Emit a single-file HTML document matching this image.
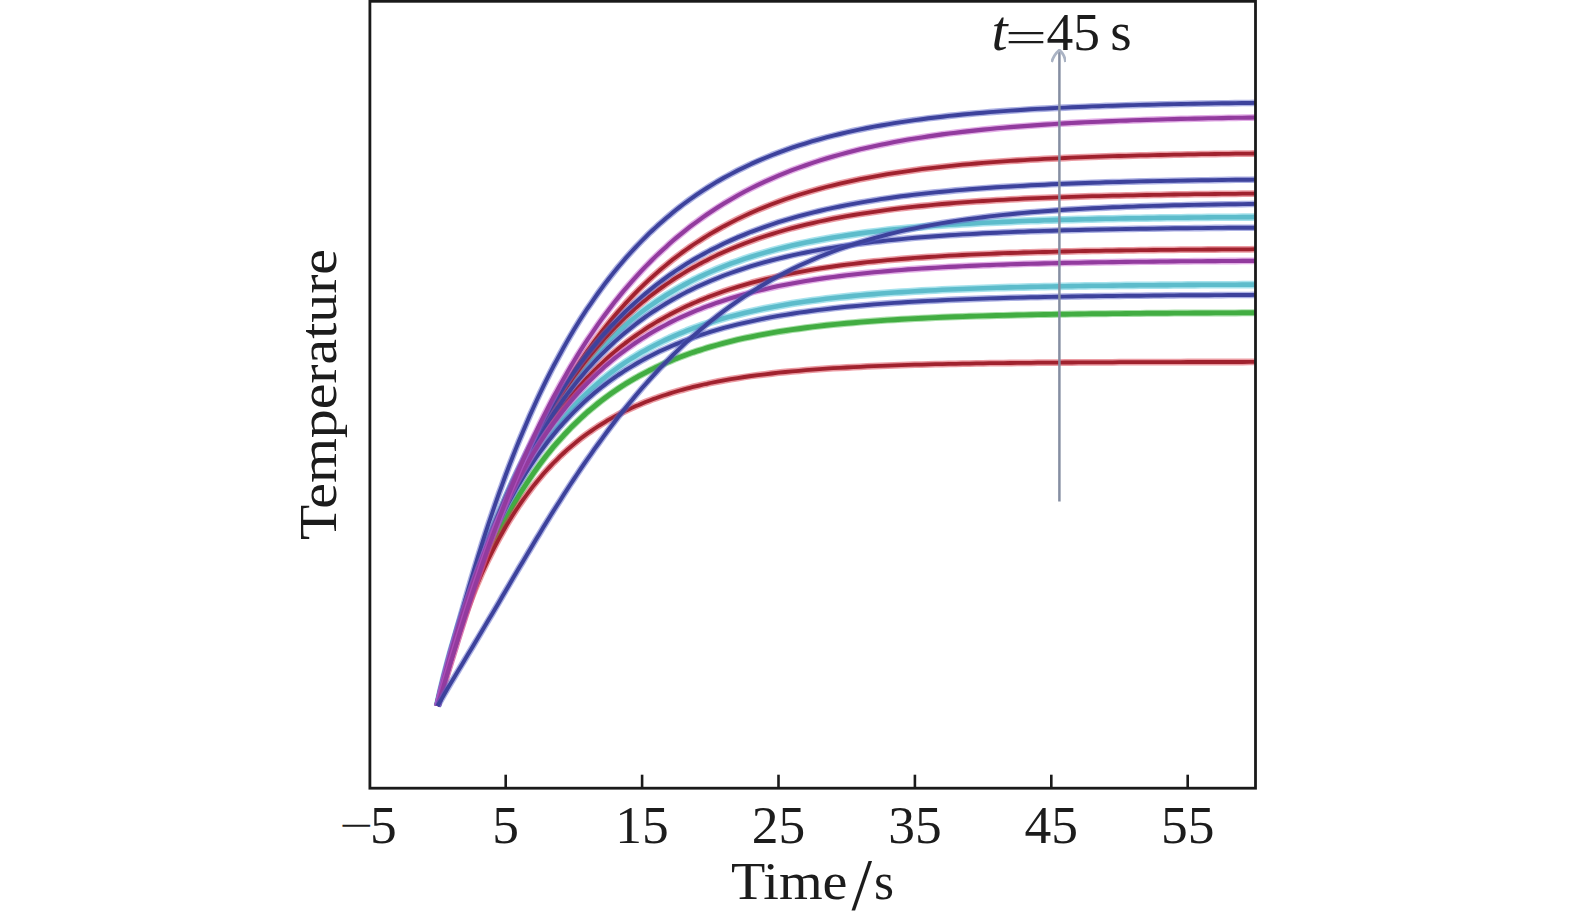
<!DOCTYPE html>
<html lang="en">
<head>
<meta charset="utf-8">
<title>Temperature vs Time</title>
<style>
html,body{margin:0;padding:0;background:#fff;}
body{width:1575px;height:913px;overflow:hidden;}
svg{display:block;}
text{font-family:"Liberation Serif","DejaVu Serif",serif;fill:#1c1c1c;}
.tick text{font-size:53.5px;}
.curves path{fill:none;stroke-linecap:butt;stroke-linejoin:round;}
</style>
</head>
<body>
<svg width="1575" height="913" viewBox="0 0 1575 913">
<rect x="0" y="0" width="1575" height="913" fill="#ffffff"/>
<g class="curves" filter="url(#soft)" transform="scale(1,1.0)">
<path d="M437.5 706.0 L440.9 691.8 L444.3 678.9 L447.7 666.7 L451.1 655.1 L454.6 644.0 L458.0 633.3 L461.4 623.1 L464.8 613.2 L468.2 603.7 L471.6 594.6 L475.0 585.7 L478.4 577.2 L481.8 569.0 L485.2 561.1 L488.6 553.4 L492.1 546.0 L495.5 538.8 L498.9 531.9 L502.3 525.2 L505.7 518.7 L509.1 512.4 L512.5 506.3 L515.9 500.5 L519.3 494.8 L522.8 489.3 L526.2 484.0 L529.6 478.8 L533.0 473.8 L536.4 469.0 L539.8 464.3 L543.2 459.7 L546.6 455.3 L550.0 451.1 L553.4 446.9 L556.9 442.9 L560.3 439.1 L563.7 435.3 L567.1 431.7 L570.5 428.1 L573.9 424.7 L577.3 421.4 L580.7 418.2 L584.1 415.1 L587.5 412.0 L591.0 409.1 L594.4 406.3 L597.8 403.5 L601.2 400.8 L604.6 398.2 L608.0 395.7 L611.4 393.3 L614.8 390.9 L618.2 388.6 L621.6 386.4 L625.0 384.2 L628.5 382.1 L631.9 380.1 L635.3 378.1 L638.7 376.2 L642.1 374.4 L645.5 372.6 L648.9 370.8 L652.3 369.1 L655.7 367.5 L659.1 365.9 L662.6 364.3 L666.0 362.8 L669.4 361.4 L672.8 360.0 L676.2 358.6 L679.6 357.3 L683.0 356.0 L686.4 354.7 L689.8 353.5 L693.2 352.3 L696.7 351.2 L700.1 350.1 L703.5 349.0 L706.9 347.9 L710.3 346.9 L717.1 345.0 L723.9 343.1 L730.8 341.4 L737.6 339.7 L744.4 338.2 L751.2 336.8 L758.0 335.4 L764.9 334.1 L771.7 332.9 L778.5 331.7 L785.3 330.7 L792.1 329.6 L799.0 328.7 L805.8 327.8 L812.6 326.9 L819.4 326.1 L826.2 325.3 L833.1 324.6 L839.9 323.9 L846.7 323.3 L853.5 322.7 L860.3 322.1 L867.2 321.6 L874.0 321.1 L880.8 320.6 L887.6 320.1 L894.4 319.7 L901.3 319.3 L908.1 318.9 L914.9 318.6 L921.7 318.2 L928.5 317.9 L935.4 317.6 L942.2 317.3 L949.0 317.0 L955.8 316.8 L962.6 316.6 L969.5 316.3 L976.3 316.1 L983.1 315.9 L989.9 315.7 L996.7 315.5 L1003.6 315.4 L1010.4 315.2 L1017.2 315.0 L1024.0 314.9 L1030.8 314.8 L1037.7 314.6 L1044.5 314.5 L1051.3 314.4 L1058.1 314.3 L1064.9 314.2 L1071.8 314.1 L1078.6 314.0 L1085.4 313.9 L1092.2 313.8 L1099.0 313.8 L1105.9 313.7 L1112.7 313.6 L1119.5 313.6 L1126.3 313.5 L1133.1 313.4 L1140.0 313.4 L1146.8 313.3 L1153.6 313.3 L1160.4 313.2 L1167.2 313.2 L1174.1 313.1 L1180.9 313.1 L1187.7 313.1 L1194.5 313.0 L1201.3 313.0 L1208.2 313.0 L1215.0 312.9 L1221.8 312.9 L1228.6 312.9 L1235.4 312.9 L1242.3 312.8 L1249.1 312.8 L1255.9 312.8" stroke="#50c050" stroke-width="7.0" stroke-opacity="0.5"/>
<path d="M437.5 706.0 L440.9 691.8 L444.3 678.9 L447.7 666.7 L451.1 655.1 L454.6 644.0 L458.0 633.3 L461.4 623.1 L464.8 613.2 L468.2 603.7 L471.6 594.6 L475.0 585.7 L478.4 577.2 L481.8 569.0 L485.2 561.1 L488.6 553.4 L492.1 546.0 L495.5 538.8 L498.9 531.9 L502.3 525.2 L505.7 518.7 L509.1 512.4 L512.5 506.3 L515.9 500.5 L519.3 494.8 L522.8 489.3 L526.2 484.0 L529.6 478.8 L533.0 473.8 L536.4 469.0 L539.8 464.3 L543.2 459.7 L546.6 455.3 L550.0 451.1 L553.4 446.9 L556.9 442.9 L560.3 439.1 L563.7 435.3 L567.1 431.7 L570.5 428.1 L573.9 424.7 L577.3 421.4 L580.7 418.2 L584.1 415.1 L587.5 412.0 L591.0 409.1 L594.4 406.3 L597.8 403.5 L601.2 400.8 L604.6 398.2 L608.0 395.7 L611.4 393.3 L614.8 390.9 L618.2 388.6 L621.6 386.4 L625.0 384.2 L628.5 382.1 L631.9 380.1 L635.3 378.1 L638.7 376.2 L642.1 374.4 L645.5 372.6 L648.9 370.8 L652.3 369.1 L655.7 367.5 L659.1 365.9 L662.6 364.3 L666.0 362.8 L669.4 361.4 L672.8 360.0 L676.2 358.6 L679.6 357.3 L683.0 356.0 L686.4 354.7 L689.8 353.5 L693.2 352.3 L696.7 351.2 L700.1 350.1 L703.5 349.0 L706.9 347.9 L710.3 346.9 L717.1 345.0 L723.9 343.1 L730.8 341.4 L737.6 339.7 L744.4 338.2 L751.2 336.8 L758.0 335.4 L764.9 334.1 L771.7 332.9 L778.5 331.7 L785.3 330.7 L792.1 329.6 L799.0 328.7 L805.8 327.8 L812.6 326.9 L819.4 326.1 L826.2 325.3 L833.1 324.6 L839.9 323.9 L846.7 323.3 L853.5 322.7 L860.3 322.1 L867.2 321.6 L874.0 321.1 L880.8 320.6 L887.6 320.1 L894.4 319.7 L901.3 319.3 L908.1 318.9 L914.9 318.6 L921.7 318.2 L928.5 317.9 L935.4 317.6 L942.2 317.3 L949.0 317.0 L955.8 316.8 L962.6 316.6 L969.5 316.3 L976.3 316.1 L983.1 315.9 L989.9 315.7 L996.7 315.5 L1003.6 315.4 L1010.4 315.2 L1017.2 315.0 L1024.0 314.9 L1030.8 314.8 L1037.7 314.6 L1044.5 314.5 L1051.3 314.4 L1058.1 314.3 L1064.9 314.2 L1071.8 314.1 L1078.6 314.0 L1085.4 313.9 L1092.2 313.8 L1099.0 313.8 L1105.9 313.7 L1112.7 313.6 L1119.5 313.6 L1126.3 313.5 L1133.1 313.4 L1140.0 313.4 L1146.8 313.3 L1153.6 313.3 L1160.4 313.2 L1167.2 313.2 L1174.1 313.1 L1180.9 313.1 L1187.7 313.1 L1194.5 313.0 L1201.3 313.0 L1208.2 313.0 L1215.0 312.9 L1221.8 312.9 L1228.6 312.9 L1235.4 312.9 L1242.3 312.8 L1249.1 312.8 L1255.9 312.8" stroke="#42ad42" stroke-width="4.9"/>
<path d="M437.5 706.0 L440.9 690.5 L444.3 676.5 L447.7 663.4 L451.1 651.0 L454.6 639.1 L458.0 627.7 L461.4 616.8 L464.8 606.3 L468.2 596.1 L471.6 586.4 L475.0 577.0 L478.4 568.0 L481.8 559.2 L485.2 550.8 L488.6 542.6 L492.1 534.8 L495.5 527.1 L498.9 519.8 L502.3 512.7 L505.7 505.8 L509.1 499.1 L512.5 492.7 L515.9 486.5 L519.3 480.4 L522.8 474.6 L526.2 468.9 L529.6 463.4 L533.0 458.1 L536.4 453.0 L539.8 448.0 L543.2 443.2 L546.6 438.5 L550.0 434.0 L553.4 429.6 L556.9 425.3 L560.3 421.2 L563.7 417.2 L567.1 413.3 L570.5 409.6 L573.9 405.9 L577.3 402.4 L580.7 399.0 L584.1 395.6 L587.5 392.4 L591.0 389.3 L594.4 386.2 L597.8 383.3 L601.2 380.4 L604.6 377.7 L608.0 375.0 L611.4 372.4 L614.8 369.8 L618.2 367.4 L621.6 365.0 L625.0 362.7 L628.5 360.4 L631.9 358.3 L635.3 356.2 L638.7 354.1 L642.1 352.1 L645.5 350.2 L648.9 348.3 L652.3 346.5 L655.7 344.7 L659.1 343.0 L662.6 341.3 L666.0 339.7 L669.4 338.1 L672.8 336.6 L676.2 335.1 L679.6 333.7 L683.0 332.3 L686.4 330.9 L689.8 329.6 L693.2 328.3 L696.7 327.1 L700.1 325.9 L703.5 324.7 L706.9 323.6 L710.3 322.5 L717.1 320.3 L723.9 318.3 L730.8 316.4 L737.6 314.7 L744.4 313.0 L751.2 311.4 L758.0 309.9 L764.9 308.5 L771.7 307.2 L778.5 305.9 L785.3 304.7 L792.1 303.6 L799.0 302.5 L805.8 301.5 L812.6 300.6 L819.4 299.7 L826.2 298.8 L833.1 298.0 L839.9 297.3 L846.7 296.6 L853.5 295.9 L860.3 295.2 L867.2 294.6 L874.0 294.1 L880.8 293.5 L887.6 293.0 L894.4 292.5 L901.3 292.1 L908.1 291.7 L914.9 291.3 L921.7 290.9 L928.5 290.5 L935.4 290.2 L942.2 289.8 L949.0 289.5 L955.8 289.2 L962.6 289.0 L969.5 288.7 L976.3 288.5 L983.1 288.2 L989.9 288.0 L996.7 287.8 L1003.6 287.6 L1010.4 287.4 L1017.2 287.2 L1024.0 287.1 L1030.8 286.9 L1037.7 286.8 L1044.5 286.6 L1051.3 286.5 L1058.1 286.4 L1064.9 286.3 L1071.8 286.1 L1078.6 286.0 L1085.4 285.9 L1092.2 285.8 L1099.0 285.7 L1105.9 285.7 L1112.7 285.6 L1119.5 285.5 L1126.3 285.4 L1133.1 285.4 L1140.0 285.3 L1146.8 285.2 L1153.6 285.2 L1160.4 285.1 L1167.2 285.1 L1174.1 285.0 L1180.9 285.0 L1187.7 284.9 L1194.5 284.9 L1201.3 284.8 L1208.2 284.8 L1215.0 284.8 L1221.8 284.7 L1228.6 284.7 L1235.4 284.7 L1242.3 284.6 L1249.1 284.6 L1255.9 284.6" stroke="#6fd0e0" stroke-width="7.6" stroke-opacity="0.62"/>
<path d="M437.5 706.0 L440.9 690.5 L444.3 676.5 L447.7 663.4 L451.1 651.0 L454.6 639.1 L458.0 627.7 L461.4 616.8 L464.8 606.3 L468.2 596.1 L471.6 586.4 L475.0 577.0 L478.4 568.0 L481.8 559.2 L485.2 550.8 L488.6 542.6 L492.1 534.8 L495.5 527.1 L498.9 519.8 L502.3 512.7 L505.7 505.8 L509.1 499.1 L512.5 492.7 L515.9 486.5 L519.3 480.4 L522.8 474.6 L526.2 468.9 L529.6 463.4 L533.0 458.1 L536.4 453.0 L539.8 448.0 L543.2 443.2 L546.6 438.5 L550.0 434.0 L553.4 429.6 L556.9 425.3 L560.3 421.2 L563.7 417.2 L567.1 413.3 L570.5 409.6 L573.9 405.9 L577.3 402.4 L580.7 399.0 L584.1 395.6 L587.5 392.4 L591.0 389.3 L594.4 386.2 L597.8 383.3 L601.2 380.4 L604.6 377.7 L608.0 375.0 L611.4 372.4 L614.8 369.8 L618.2 367.4 L621.6 365.0 L625.0 362.7 L628.5 360.4 L631.9 358.3 L635.3 356.2 L638.7 354.1 L642.1 352.1 L645.5 350.2 L648.9 348.3 L652.3 346.5 L655.7 344.7 L659.1 343.0 L662.6 341.3 L666.0 339.7 L669.4 338.1 L672.8 336.6 L676.2 335.1 L679.6 333.7 L683.0 332.3 L686.4 330.9 L689.8 329.6 L693.2 328.3 L696.7 327.1 L700.1 325.9 L703.5 324.7 L706.9 323.6 L710.3 322.5 L717.1 320.3 L723.9 318.3 L730.8 316.4 L737.6 314.7 L744.4 313.0 L751.2 311.4 L758.0 309.9 L764.9 308.5 L771.7 307.2 L778.5 305.9 L785.3 304.7 L792.1 303.6 L799.0 302.5 L805.8 301.5 L812.6 300.6 L819.4 299.7 L826.2 298.8 L833.1 298.0 L839.9 297.3 L846.7 296.6 L853.5 295.9 L860.3 295.2 L867.2 294.6 L874.0 294.1 L880.8 293.5 L887.6 293.0 L894.4 292.5 L901.3 292.1 L908.1 291.7 L914.9 291.3 L921.7 290.9 L928.5 290.5 L935.4 290.2 L942.2 289.8 L949.0 289.5 L955.8 289.2 L962.6 289.0 L969.5 288.7 L976.3 288.5 L983.1 288.2 L989.9 288.0 L996.7 287.8 L1003.6 287.6 L1010.4 287.4 L1017.2 287.2 L1024.0 287.1 L1030.8 286.9 L1037.7 286.8 L1044.5 286.6 L1051.3 286.5 L1058.1 286.4 L1064.9 286.3 L1071.8 286.1 L1078.6 286.0 L1085.4 285.9 L1092.2 285.8 L1099.0 285.7 L1105.9 285.7 L1112.7 285.6 L1119.5 285.5 L1126.3 285.4 L1133.1 285.4 L1140.0 285.3 L1146.8 285.2 L1153.6 285.2 L1160.4 285.1 L1167.2 285.1 L1174.1 285.0 L1180.9 285.0 L1187.7 284.9 L1194.5 284.9 L1201.3 284.8 L1208.2 284.8 L1215.0 284.8 L1221.8 284.7 L1228.6 284.7 L1235.4 284.7 L1242.3 284.6 L1249.1 284.6 L1255.9 284.6" stroke="#5dbccb" stroke-width="4.6"/>
<path d="M437.5 706.0 L440.9 692.2 L444.3 679.0 L447.7 666.2 L451.1 653.8 L454.6 641.9 L458.0 630.2 L461.4 618.9 L464.8 608.0 L468.2 597.3 L471.6 587.0 L475.0 576.9 L478.4 567.1 L481.8 557.7 L485.2 548.4 L488.6 539.4 L492.1 530.7 L495.5 522.2 L498.9 514.0 L502.3 506.0 L505.7 498.2 L509.1 490.6 L512.5 483.2 L515.9 476.0 L519.3 469.1 L522.8 462.3 L526.2 455.7 L529.6 449.2 L533.0 443.0 L536.4 436.9 L539.8 431.0 L543.2 425.3 L546.6 419.7 L550.0 414.2 L553.4 408.9 L556.9 403.8 L560.3 398.8 L563.7 393.9 L567.1 389.1 L570.5 384.5 L573.9 380.0 L577.3 375.7 L580.7 371.4 L584.1 367.3 L587.5 363.2 L591.0 359.3 L594.4 355.5 L597.8 351.8 L601.2 348.2 L604.6 344.7 L608.0 341.3 L611.4 337.9 L614.8 334.7 L618.2 331.5 L621.6 328.5 L625.0 325.5 L628.5 322.6 L631.9 319.8 L635.3 317.0 L638.7 314.3 L642.1 311.7 L645.5 309.2 L648.9 306.7 L652.3 304.3 L655.7 302.0 L659.1 299.7 L662.6 297.5 L666.0 295.3 L669.4 293.2 L672.8 291.2 L676.2 289.2 L679.6 287.3 L683.0 285.4 L686.4 283.6 L689.8 281.8 L693.2 280.0 L696.7 278.3 L700.1 276.7 L703.5 275.1 L706.9 273.5 L710.3 272.0 L717.1 269.1 L723.9 266.4 L730.8 263.7 L737.6 261.3 L744.4 258.9 L751.2 256.7 L758.0 254.6 L764.9 252.6 L771.7 250.7 L778.5 248.9 L785.3 247.2 L792.1 245.6 L799.0 244.0 L805.8 242.6 L812.6 241.2 L819.4 239.9 L826.2 238.7 L833.1 237.5 L839.9 236.4 L846.7 235.4 L853.5 234.4 L860.3 233.4 L867.2 232.5 L874.0 231.7 L880.8 230.9 L887.6 230.1 L894.4 229.4 L901.3 228.7 L908.1 228.1 L914.9 227.5 L921.7 226.9 L928.5 226.3 L935.4 225.8 L942.2 225.3 L949.0 224.8 L955.8 224.4 L962.6 224.0 L969.5 223.6 L976.3 223.2 L983.1 222.8 L989.9 222.5 L996.7 222.2 L1003.6 221.9 L1010.4 221.6 L1017.2 221.3 L1024.0 221.0 L1030.8 220.8 L1037.7 220.6 L1044.5 220.3 L1051.3 220.1 L1058.1 219.9 L1064.9 219.7 L1071.8 219.6 L1078.6 219.4 L1085.4 219.2 L1092.2 219.1 L1099.0 218.9 L1105.9 218.8 L1112.7 218.7 L1119.5 218.5 L1126.3 218.4 L1133.1 218.3 L1140.0 218.2 L1146.8 218.1 L1153.6 218.0 L1160.4 217.9 L1167.2 217.8 L1174.1 217.7 L1180.9 217.7 L1187.7 217.6 L1194.5 217.5 L1201.3 217.5 L1208.2 217.4 L1215.0 217.3 L1221.8 217.3 L1228.6 217.2 L1235.4 217.2 L1242.3 217.1 L1249.1 217.1 L1255.9 217.0" stroke="#6fd0e0" stroke-width="7.6" stroke-opacity="0.62"/>
<path d="M437.5 706.0 L440.9 692.2 L444.3 679.0 L447.7 666.2 L451.1 653.8 L454.6 641.9 L458.0 630.2 L461.4 618.9 L464.8 608.0 L468.2 597.3 L471.6 587.0 L475.0 576.9 L478.4 567.1 L481.8 557.7 L485.2 548.4 L488.6 539.4 L492.1 530.7 L495.5 522.2 L498.9 514.0 L502.3 506.0 L505.7 498.2 L509.1 490.6 L512.5 483.2 L515.9 476.0 L519.3 469.1 L522.8 462.3 L526.2 455.7 L529.6 449.2 L533.0 443.0 L536.4 436.9 L539.8 431.0 L543.2 425.3 L546.6 419.7 L550.0 414.2 L553.4 408.9 L556.9 403.8 L560.3 398.8 L563.7 393.9 L567.1 389.1 L570.5 384.5 L573.9 380.0 L577.3 375.7 L580.7 371.4 L584.1 367.3 L587.5 363.2 L591.0 359.3 L594.4 355.5 L597.8 351.8 L601.2 348.2 L604.6 344.7 L608.0 341.3 L611.4 337.9 L614.8 334.7 L618.2 331.5 L621.6 328.5 L625.0 325.5 L628.5 322.6 L631.9 319.8 L635.3 317.0 L638.7 314.3 L642.1 311.7 L645.5 309.2 L648.9 306.7 L652.3 304.3 L655.7 302.0 L659.1 299.7 L662.6 297.5 L666.0 295.3 L669.4 293.2 L672.8 291.2 L676.2 289.2 L679.6 287.3 L683.0 285.4 L686.4 283.6 L689.8 281.8 L693.2 280.0 L696.7 278.3 L700.1 276.7 L703.5 275.1 L706.9 273.5 L710.3 272.0 L717.1 269.1 L723.9 266.4 L730.8 263.7 L737.6 261.3 L744.4 258.9 L751.2 256.7 L758.0 254.6 L764.9 252.6 L771.7 250.7 L778.5 248.9 L785.3 247.2 L792.1 245.6 L799.0 244.0 L805.8 242.6 L812.6 241.2 L819.4 239.9 L826.2 238.7 L833.1 237.5 L839.9 236.4 L846.7 235.4 L853.5 234.4 L860.3 233.4 L867.2 232.5 L874.0 231.7 L880.8 230.9 L887.6 230.1 L894.4 229.4 L901.3 228.7 L908.1 228.1 L914.9 227.5 L921.7 226.9 L928.5 226.3 L935.4 225.8 L942.2 225.3 L949.0 224.8 L955.8 224.4 L962.6 224.0 L969.5 223.6 L976.3 223.2 L983.1 222.8 L989.9 222.5 L996.7 222.2 L1003.6 221.9 L1010.4 221.6 L1017.2 221.3 L1024.0 221.0 L1030.8 220.8 L1037.7 220.6 L1044.5 220.3 L1051.3 220.1 L1058.1 219.9 L1064.9 219.7 L1071.8 219.6 L1078.6 219.4 L1085.4 219.2 L1092.2 219.1 L1099.0 218.9 L1105.9 218.8 L1112.7 218.7 L1119.5 218.5 L1126.3 218.4 L1133.1 218.3 L1140.0 218.2 L1146.8 218.1 L1153.6 218.0 L1160.4 217.9 L1167.2 217.8 L1174.1 217.7 L1180.9 217.7 L1187.7 217.6 L1194.5 217.5 L1201.3 217.5 L1208.2 217.4 L1215.0 217.3 L1221.8 217.3 L1228.6 217.2 L1235.4 217.2 L1242.3 217.1 L1249.1 217.1 L1255.9 217.0" stroke="#5dbccb" stroke-width="4.6"/>
<path d="M437.5 706.0 L440.9 692.1 L444.3 679.4 L447.7 667.5 L451.1 656.1 L454.6 645.3 L458.0 635.0 L461.4 625.1 L464.8 615.6 L468.2 606.5 L471.6 597.7 L475.0 589.3 L478.4 581.3 L481.8 573.5 L485.2 566.1 L488.6 558.9 L492.1 552.0 L495.5 545.3 L498.9 538.9 L502.3 532.8 L505.7 526.8 L509.1 521.1 L512.5 515.6 L515.9 510.3 L519.3 505.2 L522.8 500.2 L526.2 495.5 L529.6 490.9 L533.0 486.4 L536.4 482.2 L539.8 478.1 L543.2 474.1 L546.6 470.3 L550.0 466.6 L553.4 463.0 L556.9 459.6 L560.3 456.2 L563.7 453.0 L567.1 449.9 L570.5 447.0 L573.9 444.1 L577.3 441.3 L580.7 438.6 L584.1 436.0 L587.5 433.5 L591.0 431.1 L594.4 428.8 L597.8 426.5 L601.2 424.4 L604.6 422.3 L608.0 420.2 L611.4 418.3 L614.8 416.4 L618.2 414.6 L621.6 412.8 L625.0 411.1 L628.5 409.5 L631.9 407.9 L635.3 406.3 L638.7 404.9 L642.1 403.4 L645.5 402.0 L648.9 400.7 L652.3 399.4 L655.7 398.2 L659.1 397.0 L662.6 395.8 L666.0 394.7 L669.4 393.6 L672.8 392.5 L676.2 391.5 L679.6 390.5 L683.0 389.6 L686.4 388.7 L689.8 387.8 L693.2 386.9 L696.7 386.1 L700.1 385.3 L703.5 384.5 L706.9 383.8 L710.3 383.0 L717.1 381.7 L723.9 380.4 L730.8 379.2 L737.6 378.1 L744.4 377.0 L751.2 376.0 L758.0 375.1 L764.9 374.3 L771.7 373.5 L778.5 372.7 L785.3 372.0 L792.1 371.4 L799.0 370.8 L805.8 370.2 L812.6 369.7 L819.4 369.2 L826.2 368.7 L833.1 368.2 L839.9 367.8 L846.7 367.5 L853.5 367.1 L860.3 366.8 L867.2 366.4 L874.0 366.1 L880.8 365.9 L887.6 365.6 L894.4 365.4 L901.3 365.2 L908.1 364.9 L914.9 364.7 L921.7 364.6 L928.5 364.4 L935.4 364.2 L942.2 364.1 L949.0 363.9 L955.8 363.8 L962.6 363.7 L969.5 363.6 L976.3 363.4 L983.1 363.3 L989.9 363.2 L996.7 363.2 L1003.6 363.1 L1010.4 363.0 L1017.2 362.9 L1024.0 362.9 L1030.8 362.8 L1037.7 362.7 L1044.5 362.7 L1051.3 362.6 L1058.1 362.6 L1064.9 362.5 L1071.8 362.5 L1078.6 362.4 L1085.4 362.4 L1092.2 362.4 L1099.0 362.3 L1105.9 362.3 L1112.7 362.3 L1119.5 362.2 L1126.3 362.2 L1133.1 362.2 L1140.0 362.2 L1146.8 362.1 L1153.6 362.1 L1160.4 362.1 L1167.2 362.1 L1174.1 362.1 L1180.9 362.1 L1187.7 362.0 L1194.5 362.0 L1201.3 362.0 L1208.2 362.0 L1215.0 362.0 L1221.8 362.0 L1228.6 362.0 L1235.4 362.0 L1242.3 362.0 L1249.1 361.9 L1255.9 361.9" stroke="#d83848" stroke-width="6.8" stroke-opacity="0.5"/>
<path d="M437.5 706.0 L440.9 692.1 L444.3 679.4 L447.7 667.5 L451.1 656.1 L454.6 645.3 L458.0 635.0 L461.4 625.1 L464.8 615.6 L468.2 606.5 L471.6 597.7 L475.0 589.3 L478.4 581.3 L481.8 573.5 L485.2 566.1 L488.6 558.9 L492.1 552.0 L495.5 545.3 L498.9 538.9 L502.3 532.8 L505.7 526.8 L509.1 521.1 L512.5 515.6 L515.9 510.3 L519.3 505.2 L522.8 500.2 L526.2 495.5 L529.6 490.9 L533.0 486.4 L536.4 482.2 L539.8 478.1 L543.2 474.1 L546.6 470.3 L550.0 466.6 L553.4 463.0 L556.9 459.6 L560.3 456.2 L563.7 453.0 L567.1 449.9 L570.5 447.0 L573.9 444.1 L577.3 441.3 L580.7 438.6 L584.1 436.0 L587.5 433.5 L591.0 431.1 L594.4 428.8 L597.8 426.5 L601.2 424.4 L604.6 422.3 L608.0 420.2 L611.4 418.3 L614.8 416.4 L618.2 414.6 L621.6 412.8 L625.0 411.1 L628.5 409.5 L631.9 407.9 L635.3 406.3 L638.7 404.9 L642.1 403.4 L645.5 402.0 L648.9 400.7 L652.3 399.4 L655.7 398.2 L659.1 397.0 L662.6 395.8 L666.0 394.7 L669.4 393.6 L672.8 392.5 L676.2 391.5 L679.6 390.5 L683.0 389.6 L686.4 388.7 L689.8 387.8 L693.2 386.9 L696.7 386.1 L700.1 385.3 L703.5 384.5 L706.9 383.8 L710.3 383.0 L717.1 381.7 L723.9 380.4 L730.8 379.2 L737.6 378.1 L744.4 377.0 L751.2 376.0 L758.0 375.1 L764.9 374.3 L771.7 373.5 L778.5 372.7 L785.3 372.0 L792.1 371.4 L799.0 370.8 L805.8 370.2 L812.6 369.7 L819.4 369.2 L826.2 368.7 L833.1 368.2 L839.9 367.8 L846.7 367.5 L853.5 367.1 L860.3 366.8 L867.2 366.4 L874.0 366.1 L880.8 365.9 L887.6 365.6 L894.4 365.4 L901.3 365.2 L908.1 364.9 L914.9 364.7 L921.7 364.6 L928.5 364.4 L935.4 364.2 L942.2 364.1 L949.0 363.9 L955.8 363.8 L962.6 363.7 L969.5 363.6 L976.3 363.4 L983.1 363.3 L989.9 363.2 L996.7 363.2 L1003.6 363.1 L1010.4 363.0 L1017.2 362.9 L1024.0 362.9 L1030.8 362.8 L1037.7 362.7 L1044.5 362.7 L1051.3 362.6 L1058.1 362.6 L1064.9 362.5 L1071.8 362.5 L1078.6 362.4 L1085.4 362.4 L1092.2 362.4 L1099.0 362.3 L1105.9 362.3 L1112.7 362.3 L1119.5 362.2 L1126.3 362.2 L1133.1 362.2 L1140.0 362.2 L1146.8 362.1 L1153.6 362.1 L1160.4 362.1 L1167.2 362.1 L1174.1 362.1 L1180.9 362.1 L1187.7 362.0 L1194.5 362.0 L1201.3 362.0 L1208.2 362.0 L1215.0 362.0 L1221.8 362.0 L1228.6 362.0 L1235.4 362.0 L1242.3 362.0 L1249.1 361.9 L1255.9 361.9" stroke="#a0202d" stroke-width="3.8"/>
<path d="M437.5 706.0 L440.9 691.4 L444.3 677.8 L447.7 664.9 L451.1 652.5 L454.6 640.5 L458.0 629.0 L461.4 617.9 L464.8 607.2 L468.2 596.8 L471.6 586.7 L475.0 577.0 L478.4 567.6 L481.8 558.5 L485.2 549.6 L488.6 541.0 L492.1 532.7 L495.5 524.7 L498.9 516.8 L502.3 509.3 L505.7 501.9 L509.1 494.8 L512.5 487.8 L515.9 481.1 L519.3 474.6 L522.8 468.3 L526.2 462.1 L529.6 456.1 L533.0 450.4 L536.4 444.7 L539.8 439.3 L543.2 434.0 L546.6 428.8 L550.0 423.8 L553.4 418.9 L556.9 414.2 L560.3 409.6 L563.7 405.2 L567.1 400.8 L570.5 396.6 L573.9 392.6 L577.3 388.6 L580.7 384.7 L584.1 381.0 L587.5 377.3 L591.0 373.8 L594.4 370.4 L597.8 367.0 L601.2 363.8 L604.6 360.6 L608.0 357.5 L611.4 354.5 L614.8 351.6 L618.2 348.8 L621.6 346.1 L625.0 343.4 L628.5 340.8 L631.9 338.3 L635.3 335.9 L638.7 333.5 L642.1 331.2 L645.5 328.9 L648.9 326.7 L652.3 324.6 L655.7 322.5 L659.1 320.5 L662.6 318.6 L666.0 316.7 L669.4 314.8 L672.8 313.0 L676.2 311.3 L679.6 309.6 L683.0 307.9 L686.4 306.3 L689.8 304.8 L693.2 303.2 L696.7 301.8 L700.1 300.3 L703.5 298.9 L706.9 297.6 L710.3 296.2 L717.1 293.7 L723.9 291.3 L730.8 289.0 L737.6 286.9 L744.4 284.9 L751.2 282.9 L758.0 281.1 L764.9 279.4 L771.7 277.8 L778.5 276.2 L785.3 274.7 L792.1 273.4 L799.0 272.1 L805.8 270.8 L812.6 269.6 L819.4 268.5 L826.2 267.5 L833.1 266.5 L839.9 265.5 L846.7 264.6 L853.5 263.8 L860.3 263.0 L867.2 262.2 L874.0 261.5 L880.8 260.8 L887.6 260.2 L894.4 259.6 L901.3 259.0 L908.1 258.5 L914.9 257.9 L921.7 257.5 L928.5 257.0 L935.4 256.6 L942.2 256.1 L949.0 255.7 L955.8 255.4 L962.6 255.0 L969.5 254.7 L976.3 254.4 L983.1 254.1 L989.9 253.8 L996.7 253.5 L1003.6 253.2 L1010.4 253.0 L1017.2 252.8 L1024.0 252.5 L1030.8 252.3 L1037.7 252.1 L1044.5 252.0 L1051.3 251.8 L1058.1 251.6 L1064.9 251.5 L1071.8 251.3 L1078.6 251.2 L1085.4 251.0 L1092.2 250.9 L1099.0 250.8 L1105.9 250.7 L1112.7 250.6 L1119.5 250.5 L1126.3 250.4 L1133.1 250.3 L1140.0 250.2 L1146.8 250.1 L1153.6 250.0 L1160.4 249.9 L1167.2 249.9 L1174.1 249.8 L1180.9 249.7 L1187.7 249.7 L1194.5 249.6 L1201.3 249.6 L1208.2 249.5 L1215.0 249.5 L1221.8 249.4 L1228.6 249.4 L1235.4 249.3 L1242.3 249.3 L1249.1 249.3 L1255.9 249.2" stroke="#d83848" stroke-width="6.8" stroke-opacity="0.5"/>
<path d="M437.5 706.0 L440.9 691.4 L444.3 677.8 L447.7 664.9 L451.1 652.5 L454.6 640.5 L458.0 629.0 L461.4 617.9 L464.8 607.2 L468.2 596.8 L471.6 586.7 L475.0 577.0 L478.4 567.6 L481.8 558.5 L485.2 549.6 L488.6 541.0 L492.1 532.7 L495.5 524.7 L498.9 516.8 L502.3 509.3 L505.7 501.9 L509.1 494.8 L512.5 487.8 L515.9 481.1 L519.3 474.6 L522.8 468.3 L526.2 462.1 L529.6 456.1 L533.0 450.4 L536.4 444.7 L539.8 439.3 L543.2 434.0 L546.6 428.8 L550.0 423.8 L553.4 418.9 L556.9 414.2 L560.3 409.6 L563.7 405.2 L567.1 400.8 L570.5 396.6 L573.9 392.6 L577.3 388.6 L580.7 384.7 L584.1 381.0 L587.5 377.3 L591.0 373.8 L594.4 370.4 L597.8 367.0 L601.2 363.8 L604.6 360.6 L608.0 357.5 L611.4 354.5 L614.8 351.6 L618.2 348.8 L621.6 346.1 L625.0 343.4 L628.5 340.8 L631.9 338.3 L635.3 335.9 L638.7 333.5 L642.1 331.2 L645.5 328.9 L648.9 326.7 L652.3 324.6 L655.7 322.5 L659.1 320.5 L662.6 318.6 L666.0 316.7 L669.4 314.8 L672.8 313.0 L676.2 311.3 L679.6 309.6 L683.0 307.9 L686.4 306.3 L689.8 304.8 L693.2 303.2 L696.7 301.8 L700.1 300.3 L703.5 298.9 L706.9 297.6 L710.3 296.2 L717.1 293.7 L723.9 291.3 L730.8 289.0 L737.6 286.9 L744.4 284.9 L751.2 282.9 L758.0 281.1 L764.9 279.4 L771.7 277.8 L778.5 276.2 L785.3 274.7 L792.1 273.4 L799.0 272.1 L805.8 270.8 L812.6 269.6 L819.4 268.5 L826.2 267.5 L833.1 266.5 L839.9 265.5 L846.7 264.6 L853.5 263.8 L860.3 263.0 L867.2 262.2 L874.0 261.5 L880.8 260.8 L887.6 260.2 L894.4 259.6 L901.3 259.0 L908.1 258.5 L914.9 257.9 L921.7 257.5 L928.5 257.0 L935.4 256.6 L942.2 256.1 L949.0 255.7 L955.8 255.4 L962.6 255.0 L969.5 254.7 L976.3 254.4 L983.1 254.1 L989.9 253.8 L996.7 253.5 L1003.6 253.2 L1010.4 253.0 L1017.2 252.8 L1024.0 252.5 L1030.8 252.3 L1037.7 252.1 L1044.5 252.0 L1051.3 251.8 L1058.1 251.6 L1064.9 251.5 L1071.8 251.3 L1078.6 251.2 L1085.4 251.0 L1092.2 250.9 L1099.0 250.8 L1105.9 250.7 L1112.7 250.6 L1119.5 250.5 L1126.3 250.4 L1133.1 250.3 L1140.0 250.2 L1146.8 250.1 L1153.6 250.0 L1160.4 249.9 L1167.2 249.9 L1174.1 249.8 L1180.9 249.7 L1187.7 249.7 L1194.5 249.6 L1201.3 249.6 L1208.2 249.5 L1215.0 249.5 L1221.8 249.4 L1228.6 249.4 L1235.4 249.3 L1242.3 249.3 L1249.1 249.3 L1255.9 249.2" stroke="#a0202d" stroke-width="3.8"/>
<path d="M437.5 706.0 L440.9 693.0 L444.3 680.3 L447.7 668.0 L451.1 655.9 L454.6 644.2 L458.0 632.7 L461.4 621.6 L464.8 610.7 L468.2 600.1 L471.6 589.8 L475.0 579.7 L478.4 569.9 L481.8 560.4 L485.2 551.0 L488.6 542.0 L492.1 533.1 L495.5 524.5 L498.9 516.1 L502.3 507.9 L505.7 499.9 L509.1 492.1 L512.5 484.5 L515.9 477.1 L519.3 469.9 L522.8 462.9 L526.2 456.0 L529.6 449.3 L533.0 442.8 L536.4 436.5 L539.8 430.3 L543.2 424.3 L546.6 418.4 L550.0 412.7 L553.4 407.1 L556.9 401.7 L560.3 396.4 L563.7 391.2 L567.1 386.2 L570.5 381.3 L573.9 376.5 L577.3 371.8 L580.7 367.3 L584.1 362.9 L587.5 358.6 L591.0 354.3 L594.4 350.3 L597.8 346.3 L601.2 342.4 L604.6 338.6 L608.0 334.9 L611.4 331.3 L614.8 327.7 L618.2 324.3 L621.6 321.0 L625.0 317.7 L628.5 314.6 L631.9 311.5 L635.3 308.4 L638.7 305.5 L642.1 302.6 L645.5 299.9 L648.9 297.1 L652.3 294.5 L655.7 291.9 L659.1 289.4 L662.6 286.9 L666.0 284.5 L669.4 282.2 L672.8 279.9 L676.2 277.7 L679.6 275.6 L683.0 273.5 L686.4 271.4 L689.8 269.4 L693.2 267.5 L696.7 265.6 L700.1 263.7 L703.5 261.9 L706.9 260.2 L710.3 258.4 L717.1 255.1 L723.9 252.0 L730.8 249.0 L737.6 246.2 L744.4 243.5 L751.2 241.0 L758.0 238.5 L764.9 236.2 L771.7 234.1 L778.5 232.0 L785.3 230.0 L792.1 228.1 L799.0 226.4 L805.8 224.7 L812.6 223.1 L819.4 221.5 L826.2 220.1 L833.1 218.7 L839.9 217.4 L846.7 216.1 L853.5 215.0 L860.3 213.8 L867.2 212.8 L874.0 211.8 L880.8 210.8 L887.6 209.9 L894.4 209.0 L901.3 208.2 L908.1 207.4 L914.9 206.7 L921.7 206.0 L928.5 205.3 L935.4 204.6 L942.2 204.0 L949.0 203.5 L955.8 202.9 L962.6 202.4 L969.5 201.9 L976.3 201.4 L983.1 201.0 L989.9 200.6 L996.7 200.2 L1003.6 199.8 L1010.4 199.4 L1017.2 199.1 L1024.0 198.7 L1030.8 198.4 L1037.7 198.1 L1044.5 197.9 L1051.3 197.6 L1058.1 197.3 L1064.9 197.1 L1071.8 196.9 L1078.6 196.6 L1085.4 196.4 L1092.2 196.2 L1099.0 196.1 L1105.9 195.9 L1112.7 195.7 L1119.5 195.6 L1126.3 195.4 L1133.1 195.3 L1140.0 195.1 L1146.8 195.0 L1153.6 194.9 L1160.4 194.8 L1167.2 194.6 L1174.1 194.5 L1180.9 194.4 L1187.7 194.3 L1194.5 194.2 L1201.3 194.2 L1208.2 194.1 L1215.0 194.0 L1221.8 193.9 L1228.6 193.9 L1235.4 193.8 L1242.3 193.7 L1249.1 193.7 L1255.9 193.6" stroke="#d83848" stroke-width="6.8" stroke-opacity="0.5"/>
<path d="M437.5 706.0 L440.9 693.0 L444.3 680.3 L447.7 668.0 L451.1 655.9 L454.6 644.2 L458.0 632.7 L461.4 621.6 L464.8 610.7 L468.2 600.1 L471.6 589.8 L475.0 579.7 L478.4 569.9 L481.8 560.4 L485.2 551.0 L488.6 542.0 L492.1 533.1 L495.5 524.5 L498.9 516.1 L502.3 507.9 L505.7 499.9 L509.1 492.1 L512.5 484.5 L515.9 477.1 L519.3 469.9 L522.8 462.9 L526.2 456.0 L529.6 449.3 L533.0 442.8 L536.4 436.5 L539.8 430.3 L543.2 424.3 L546.6 418.4 L550.0 412.7 L553.4 407.1 L556.9 401.7 L560.3 396.4 L563.7 391.2 L567.1 386.2 L570.5 381.3 L573.9 376.5 L577.3 371.8 L580.7 367.3 L584.1 362.9 L587.5 358.6 L591.0 354.3 L594.4 350.3 L597.8 346.3 L601.2 342.4 L604.6 338.6 L608.0 334.9 L611.4 331.3 L614.8 327.7 L618.2 324.3 L621.6 321.0 L625.0 317.7 L628.5 314.6 L631.9 311.5 L635.3 308.4 L638.7 305.5 L642.1 302.6 L645.5 299.9 L648.9 297.1 L652.3 294.5 L655.7 291.9 L659.1 289.4 L662.6 286.9 L666.0 284.5 L669.4 282.2 L672.8 279.9 L676.2 277.7 L679.6 275.6 L683.0 273.5 L686.4 271.4 L689.8 269.4 L693.2 267.5 L696.7 265.6 L700.1 263.7 L703.5 261.9 L706.9 260.2 L710.3 258.4 L717.1 255.1 L723.9 252.0 L730.8 249.0 L737.6 246.2 L744.4 243.5 L751.2 241.0 L758.0 238.5 L764.9 236.2 L771.7 234.1 L778.5 232.0 L785.3 230.0 L792.1 228.1 L799.0 226.4 L805.8 224.7 L812.6 223.1 L819.4 221.5 L826.2 220.1 L833.1 218.7 L839.9 217.4 L846.7 216.1 L853.5 215.0 L860.3 213.8 L867.2 212.8 L874.0 211.8 L880.8 210.8 L887.6 209.9 L894.4 209.0 L901.3 208.2 L908.1 207.4 L914.9 206.7 L921.7 206.0 L928.5 205.3 L935.4 204.6 L942.2 204.0 L949.0 203.5 L955.8 202.9 L962.6 202.4 L969.5 201.9 L976.3 201.4 L983.1 201.0 L989.9 200.6 L996.7 200.2 L1003.6 199.8 L1010.4 199.4 L1017.2 199.1 L1024.0 198.7 L1030.8 198.4 L1037.7 198.1 L1044.5 197.9 L1051.3 197.6 L1058.1 197.3 L1064.9 197.1 L1071.8 196.9 L1078.6 196.6 L1085.4 196.4 L1092.2 196.2 L1099.0 196.1 L1105.9 195.9 L1112.7 195.7 L1119.5 195.6 L1126.3 195.4 L1133.1 195.3 L1140.0 195.1 L1146.8 195.0 L1153.6 194.9 L1160.4 194.8 L1167.2 194.6 L1174.1 194.5 L1180.9 194.4 L1187.7 194.3 L1194.5 194.2 L1201.3 194.2 L1208.2 194.1 L1215.0 194.0 L1221.8 193.9 L1228.6 193.9 L1235.4 193.8 L1242.3 193.7 L1249.1 193.7 L1255.9 193.6" stroke="#a0202d" stroke-width="3.8"/>
<path d="M437.5 706.0 L440.9 695.1 L444.3 683.8 L447.7 672.4 L451.1 661.2 L454.6 650.1 L458.0 639.1 L461.4 628.3 L464.8 617.7 L468.2 607.3 L471.6 597.0 L475.0 587.0 L478.4 577.1 L481.8 567.4 L485.2 557.9 L488.6 548.6 L492.1 539.5 L495.5 530.6 L498.9 521.8 L502.3 513.3 L505.7 504.9 L509.1 496.7 L512.5 488.7 L515.9 480.8 L519.3 473.1 L522.8 465.6 L526.2 458.2 L529.6 451.0 L533.0 444.0 L536.4 437.1 L539.8 430.4 L543.2 423.8 L546.6 417.4 L550.0 411.1 L553.4 405.0 L556.9 398.9 L560.3 393.1 L563.7 387.3 L567.1 381.7 L570.5 376.2 L573.9 370.9 L577.3 365.7 L580.7 360.5 L584.1 355.5 L587.5 350.7 L591.0 345.9 L594.4 341.2 L597.8 336.7 L601.2 332.2 L604.6 327.9 L608.0 323.7 L611.4 319.5 L614.8 315.5 L618.2 311.5 L621.6 307.7 L625.0 303.9 L628.5 300.2 L631.9 296.6 L635.3 293.1 L638.7 289.7 L642.1 286.4 L645.5 283.1 L648.9 279.9 L652.3 276.8 L655.7 273.8 L659.1 270.8 L662.6 267.9 L666.0 265.1 L669.4 262.3 L672.8 259.6 L676.2 257.0 L679.6 254.4 L683.0 251.9 L686.4 249.5 L689.8 247.1 L693.2 244.8 L696.7 242.5 L700.1 240.3 L703.5 238.1 L706.9 236.0 L710.3 233.9 L717.1 230.0 L723.9 226.2 L730.8 222.6 L737.6 219.1 L744.4 215.9 L751.2 212.7 L758.0 209.8 L764.9 207.0 L771.7 204.3 L778.5 201.7 L785.3 199.3 L792.1 197.0 L799.0 194.8 L805.8 192.7 L812.6 190.7 L819.4 188.8 L826.2 187.0 L833.1 185.3 L839.9 183.6 L846.7 182.1 L853.5 180.6 L860.3 179.2 L867.2 177.8 L874.0 176.6 L880.8 175.4 L887.6 174.2 L894.4 173.1 L901.3 172.1 L908.1 171.1 L914.9 170.1 L921.7 169.2 L928.5 168.4 L935.4 167.6 L942.2 166.8 L949.0 166.1 L955.8 165.4 L962.6 164.7 L969.5 164.1 L976.3 163.5 L983.1 162.9 L989.9 162.4 L996.7 161.9 L1003.6 161.4 L1010.4 160.9 L1017.2 160.5 L1024.0 160.1 L1030.8 159.7 L1037.7 159.3 L1044.5 158.9 L1051.3 158.6 L1058.1 158.3 L1064.9 158.0 L1071.8 157.7 L1078.6 157.4 L1085.4 157.1 L1092.2 156.9 L1099.0 156.6 L1105.9 156.4 L1112.7 156.2 L1119.5 156.0 L1126.3 155.8 L1133.1 155.6 L1140.0 155.4 L1146.8 155.3 L1153.6 155.1 L1160.4 155.0 L1167.2 154.8 L1174.1 154.7 L1180.9 154.6 L1187.7 154.4 L1194.5 154.3 L1201.3 154.2 L1208.2 154.1 L1215.0 154.0 L1221.8 153.9 L1228.6 153.8 L1235.4 153.7 L1242.3 153.7 L1249.1 153.6 L1255.9 153.5" stroke="#d83848" stroke-width="6.8" stroke-opacity="0.5"/>
<path d="M437.5 706.0 L440.9 695.1 L444.3 683.8 L447.7 672.4 L451.1 661.2 L454.6 650.1 L458.0 639.1 L461.4 628.3 L464.8 617.7 L468.2 607.3 L471.6 597.0 L475.0 587.0 L478.4 577.1 L481.8 567.4 L485.2 557.9 L488.6 548.6 L492.1 539.5 L495.5 530.6 L498.9 521.8 L502.3 513.3 L505.7 504.9 L509.1 496.7 L512.5 488.7 L515.9 480.8 L519.3 473.1 L522.8 465.6 L526.2 458.2 L529.6 451.0 L533.0 444.0 L536.4 437.1 L539.8 430.4 L543.2 423.8 L546.6 417.4 L550.0 411.1 L553.4 405.0 L556.9 398.9 L560.3 393.1 L563.7 387.3 L567.1 381.7 L570.5 376.2 L573.9 370.9 L577.3 365.7 L580.7 360.5 L584.1 355.5 L587.5 350.7 L591.0 345.9 L594.4 341.2 L597.8 336.7 L601.2 332.2 L604.6 327.9 L608.0 323.7 L611.4 319.5 L614.8 315.5 L618.2 311.5 L621.6 307.7 L625.0 303.9 L628.5 300.2 L631.9 296.6 L635.3 293.1 L638.7 289.7 L642.1 286.4 L645.5 283.1 L648.9 279.9 L652.3 276.8 L655.7 273.8 L659.1 270.8 L662.6 267.9 L666.0 265.1 L669.4 262.3 L672.8 259.6 L676.2 257.0 L679.6 254.4 L683.0 251.9 L686.4 249.5 L689.8 247.1 L693.2 244.8 L696.7 242.5 L700.1 240.3 L703.5 238.1 L706.9 236.0 L710.3 233.9 L717.1 230.0 L723.9 226.2 L730.8 222.6 L737.6 219.1 L744.4 215.9 L751.2 212.7 L758.0 209.8 L764.9 207.0 L771.7 204.3 L778.5 201.7 L785.3 199.3 L792.1 197.0 L799.0 194.8 L805.8 192.7 L812.6 190.7 L819.4 188.8 L826.2 187.0 L833.1 185.3 L839.9 183.6 L846.7 182.1 L853.5 180.6 L860.3 179.2 L867.2 177.8 L874.0 176.6 L880.8 175.4 L887.6 174.2 L894.4 173.1 L901.3 172.1 L908.1 171.1 L914.9 170.1 L921.7 169.2 L928.5 168.4 L935.4 167.6 L942.2 166.8 L949.0 166.1 L955.8 165.4 L962.6 164.7 L969.5 164.1 L976.3 163.5 L983.1 162.9 L989.9 162.4 L996.7 161.9 L1003.6 161.4 L1010.4 160.9 L1017.2 160.5 L1024.0 160.1 L1030.8 159.7 L1037.7 159.3 L1044.5 158.9 L1051.3 158.6 L1058.1 158.3 L1064.9 158.0 L1071.8 157.7 L1078.6 157.4 L1085.4 157.1 L1092.2 156.9 L1099.0 156.6 L1105.9 156.4 L1112.7 156.2 L1119.5 156.0 L1126.3 155.8 L1133.1 155.6 L1140.0 155.4 L1146.8 155.3 L1153.6 155.1 L1160.4 155.0 L1167.2 154.8 L1174.1 154.7 L1180.9 154.6 L1187.7 154.4 L1194.5 154.3 L1201.3 154.2 L1208.2 154.1 L1215.0 154.0 L1221.8 153.9 L1228.6 153.8 L1235.4 153.7 L1242.3 153.7 L1249.1 153.6 L1255.9 153.5" stroke="#a0202d" stroke-width="3.8"/>
<path d="M437.5 706.0 L440.9 689.9 L444.3 675.8 L447.7 662.7 L451.1 650.3 L454.6 638.4 L458.0 627.2 L461.4 616.4 L464.8 606.0 L468.2 596.1 L471.6 586.5 L475.0 577.4 L478.4 568.5 L481.8 560.0 L485.2 551.8 L488.6 543.8 L492.1 536.2 L495.5 528.8 L498.9 521.7 L502.3 514.8 L505.7 508.1 L509.1 501.7 L512.5 495.5 L515.9 489.4 L519.3 483.6 L522.8 478.0 L526.2 472.5 L529.6 467.2 L533.0 462.1 L536.4 457.2 L539.8 452.4 L543.2 447.8 L546.6 443.3 L550.0 438.9 L553.4 434.7 L556.9 430.6 L560.3 426.6 L563.7 422.8 L567.1 419.1 L570.5 415.5 L573.9 412.0 L577.3 408.6 L580.7 405.3 L584.1 402.1 L587.5 399.0 L591.0 396.0 L594.4 393.1 L597.8 390.3 L601.2 387.5 L604.6 384.9 L608.0 382.3 L611.4 379.8 L614.8 377.4 L618.2 375.0 L621.6 372.8 L625.0 370.5 L628.5 368.4 L631.9 366.3 L635.3 364.3 L638.7 362.3 L642.1 360.4 L645.5 358.5 L648.9 356.7 L652.3 355.0 L655.7 353.3 L659.1 351.6 L662.6 350.0 L666.0 348.5 L669.4 347.0 L672.8 345.5 L676.2 344.1 L679.6 342.7 L683.0 341.4 L686.4 340.1 L689.8 338.8 L693.2 337.6 L696.7 336.4 L700.1 335.2 L703.5 334.1 L706.9 333.0 L710.3 331.9 L717.1 329.9 L723.9 327.9 L730.8 326.1 L737.6 324.4 L744.4 322.8 L751.2 321.3 L758.0 319.8 L764.9 318.4 L771.7 317.1 L778.5 315.9 L785.3 314.8 L792.1 313.7 L799.0 312.6 L805.8 311.7 L812.6 310.8 L819.4 309.9 L826.2 309.1 L833.1 308.3 L839.9 307.5 L846.7 306.8 L853.5 306.2 L860.3 305.6 L867.2 305.0 L874.0 304.4 L880.8 303.9 L887.6 303.4 L894.4 302.9 L901.3 302.5 L908.1 302.0 L914.9 301.6 L921.7 301.3 L928.5 300.9 L935.4 300.6 L942.2 300.2 L949.0 299.9 L955.8 299.6 L962.6 299.4 L969.5 299.1 L976.3 298.9 L983.1 298.6 L989.9 298.4 L996.7 298.2 L1003.6 298.0 L1010.4 297.8 L1017.2 297.6 L1024.0 297.5 L1030.8 297.3 L1037.7 297.2 L1044.5 297.0 L1051.3 296.9 L1058.1 296.8 L1064.9 296.6 L1071.8 296.5 L1078.6 296.4 L1085.4 296.3 L1092.2 296.2 L1099.0 296.1 L1105.9 296.0 L1112.7 296.0 L1119.5 295.9 L1126.3 295.8 L1133.1 295.7 L1140.0 295.7 L1146.8 295.6 L1153.6 295.5 L1160.4 295.5 L1167.2 295.4 L1174.1 295.4 L1180.9 295.3 L1187.7 295.3 L1194.5 295.2 L1201.3 295.2 L1208.2 295.2 L1215.0 295.1 L1221.8 295.1 L1228.6 295.0 L1235.4 295.0 L1242.3 295.0 L1249.1 295.0 L1255.9 294.9" stroke="#5a62c8" stroke-width="6.6" stroke-opacity="0.5"/>
<path d="M437.5 706.0 L440.9 689.9 L444.3 675.8 L447.7 662.7 L451.1 650.3 L454.6 638.4 L458.0 627.2 L461.4 616.4 L464.8 606.0 L468.2 596.1 L471.6 586.5 L475.0 577.4 L478.4 568.5 L481.8 560.0 L485.2 551.8 L488.6 543.8 L492.1 536.2 L495.5 528.8 L498.9 521.7 L502.3 514.8 L505.7 508.1 L509.1 501.7 L512.5 495.5 L515.9 489.4 L519.3 483.6 L522.8 478.0 L526.2 472.5 L529.6 467.2 L533.0 462.1 L536.4 457.2 L539.8 452.4 L543.2 447.8 L546.6 443.3 L550.0 438.9 L553.4 434.7 L556.9 430.6 L560.3 426.6 L563.7 422.8 L567.1 419.1 L570.5 415.5 L573.9 412.0 L577.3 408.6 L580.7 405.3 L584.1 402.1 L587.5 399.0 L591.0 396.0 L594.4 393.1 L597.8 390.3 L601.2 387.5 L604.6 384.9 L608.0 382.3 L611.4 379.8 L614.8 377.4 L618.2 375.0 L621.6 372.8 L625.0 370.5 L628.5 368.4 L631.9 366.3 L635.3 364.3 L638.7 362.3 L642.1 360.4 L645.5 358.5 L648.9 356.7 L652.3 355.0 L655.7 353.3 L659.1 351.6 L662.6 350.0 L666.0 348.5 L669.4 347.0 L672.8 345.5 L676.2 344.1 L679.6 342.7 L683.0 341.4 L686.4 340.1 L689.8 338.8 L693.2 337.6 L696.7 336.4 L700.1 335.2 L703.5 334.1 L706.9 333.0 L710.3 331.9 L717.1 329.9 L723.9 327.9 L730.8 326.1 L737.6 324.4 L744.4 322.8 L751.2 321.3 L758.0 319.8 L764.9 318.4 L771.7 317.1 L778.5 315.9 L785.3 314.8 L792.1 313.7 L799.0 312.6 L805.8 311.7 L812.6 310.8 L819.4 309.9 L826.2 309.1 L833.1 308.3 L839.9 307.5 L846.7 306.8 L853.5 306.2 L860.3 305.6 L867.2 305.0 L874.0 304.4 L880.8 303.9 L887.6 303.4 L894.4 302.9 L901.3 302.5 L908.1 302.0 L914.9 301.6 L921.7 301.3 L928.5 300.9 L935.4 300.6 L942.2 300.2 L949.0 299.9 L955.8 299.6 L962.6 299.4 L969.5 299.1 L976.3 298.9 L983.1 298.6 L989.9 298.4 L996.7 298.2 L1003.6 298.0 L1010.4 297.8 L1017.2 297.6 L1024.0 297.5 L1030.8 297.3 L1037.7 297.2 L1044.5 297.0 L1051.3 296.9 L1058.1 296.8 L1064.9 296.6 L1071.8 296.5 L1078.6 296.4 L1085.4 296.3 L1092.2 296.2 L1099.0 296.1 L1105.9 296.0 L1112.7 296.0 L1119.5 295.9 L1126.3 295.8 L1133.1 295.7 L1140.0 295.7 L1146.8 295.6 L1153.6 295.5 L1160.4 295.5 L1167.2 295.4 L1174.1 295.4 L1180.9 295.3 L1187.7 295.3 L1194.5 295.2 L1201.3 295.2 L1208.2 295.2 L1215.0 295.1 L1221.8 295.1 L1228.6 295.0 L1235.4 295.0 L1242.3 295.0 L1249.1 295.0 L1255.9 294.9" stroke="#3c429c" stroke-width="3.9"/>
<path d="M437.5 706.0 L440.9 692.0 L444.3 678.8 L447.7 666.1 L451.1 653.8 L454.6 641.9 L458.0 630.4 L461.4 619.2 L464.8 608.4 L468.2 597.9 L471.6 587.7 L475.0 577.8 L478.4 568.2 L481.8 558.9 L485.2 549.8 L488.6 541.0 L492.1 532.5 L495.5 524.2 L498.9 516.1 L502.3 508.2 L505.7 500.6 L509.1 493.2 L512.5 486.0 L515.9 479.0 L519.3 472.2 L522.8 465.6 L526.2 459.1 L529.6 452.9 L533.0 446.8 L536.4 440.9 L539.8 435.1 L543.2 429.5 L546.6 424.1 L550.0 418.8 L553.4 413.7 L556.9 408.6 L560.3 403.8 L563.7 399.0 L567.1 394.4 L570.5 390.0 L573.9 385.6 L577.3 381.3 L580.7 377.2 L584.1 373.2 L587.5 369.3 L591.0 365.5 L594.4 361.8 L597.8 358.2 L601.2 354.7 L604.6 351.3 L608.0 348.0 L611.4 344.8 L614.8 341.6 L618.2 338.6 L621.6 335.6 L625.0 332.7 L628.5 329.9 L631.9 327.2 L635.3 324.5 L638.7 321.9 L642.1 319.4 L645.5 316.9 L648.9 314.5 L652.3 312.2 L655.7 310.0 L659.1 307.8 L662.6 305.6 L666.0 303.5 L669.4 301.5 L672.8 299.5 L676.2 297.6 L679.6 295.7 L683.0 293.9 L686.4 292.1 L689.8 290.4 L693.2 288.7 L696.7 287.1 L700.1 285.5 L703.5 284.0 L706.9 282.5 L710.3 281.0 L717.1 278.2 L723.9 275.5 L730.8 273.0 L737.6 270.6 L744.4 268.3 L751.2 266.1 L758.0 264.1 L764.9 262.2 L771.7 260.3 L778.5 258.6 L785.3 257.0 L792.1 255.4 L799.0 253.9 L805.8 252.5 L812.6 251.2 L819.4 249.9 L826.2 248.7 L833.1 247.6 L839.9 246.5 L846.7 245.5 L853.5 244.6 L860.3 243.6 L867.2 242.8 L874.0 241.9 L880.8 241.2 L887.6 240.4 L894.4 239.7 L901.3 239.1 L908.1 238.4 L914.9 237.8 L921.7 237.3 L928.5 236.7 L935.4 236.2 L942.2 235.7 L949.0 235.3 L955.8 234.9 L962.6 234.4 L969.5 234.1 L976.3 233.7 L983.1 233.3 L989.9 233.0 L996.7 232.7 L1003.6 232.4 L1010.4 232.1 L1017.2 231.8 L1024.0 231.6 L1030.8 231.3 L1037.7 231.1 L1044.5 230.9 L1051.3 230.7 L1058.1 230.5 L1064.9 230.3 L1071.8 230.1 L1078.6 230.0 L1085.4 229.8 L1092.2 229.6 L1099.0 229.5 L1105.9 229.4 L1112.7 229.2 L1119.5 229.1 L1126.3 229.0 L1133.1 228.9 L1140.0 228.8 L1146.8 228.7 L1153.6 228.6 L1160.4 228.5 L1167.2 228.4 L1174.1 228.3 L1180.9 228.3 L1187.7 228.2 L1194.5 228.1 L1201.3 228.1 L1208.2 228.0 L1215.0 227.9 L1221.8 227.9 L1228.6 227.8 L1235.4 227.8 L1242.3 227.7 L1249.1 227.7 L1255.9 227.7" stroke="#5a62c8" stroke-width="6.6" stroke-opacity="0.5"/>
<path d="M437.5 706.0 L440.9 692.0 L444.3 678.8 L447.7 666.1 L451.1 653.8 L454.6 641.9 L458.0 630.4 L461.4 619.2 L464.8 608.4 L468.2 597.9 L471.6 587.7 L475.0 577.8 L478.4 568.2 L481.8 558.9 L485.2 549.8 L488.6 541.0 L492.1 532.5 L495.5 524.2 L498.9 516.1 L502.3 508.2 L505.7 500.6 L509.1 493.2 L512.5 486.0 L515.9 479.0 L519.3 472.2 L522.8 465.6 L526.2 459.1 L529.6 452.9 L533.0 446.8 L536.4 440.9 L539.8 435.1 L543.2 429.5 L546.6 424.1 L550.0 418.8 L553.4 413.7 L556.9 408.6 L560.3 403.8 L563.7 399.0 L567.1 394.4 L570.5 390.0 L573.9 385.6 L577.3 381.3 L580.7 377.2 L584.1 373.2 L587.5 369.3 L591.0 365.5 L594.4 361.8 L597.8 358.2 L601.2 354.7 L604.6 351.3 L608.0 348.0 L611.4 344.8 L614.8 341.6 L618.2 338.6 L621.6 335.6 L625.0 332.7 L628.5 329.9 L631.9 327.2 L635.3 324.5 L638.7 321.9 L642.1 319.4 L645.5 316.9 L648.9 314.5 L652.3 312.2 L655.7 310.0 L659.1 307.8 L662.6 305.6 L666.0 303.5 L669.4 301.5 L672.8 299.5 L676.2 297.6 L679.6 295.7 L683.0 293.9 L686.4 292.1 L689.8 290.4 L693.2 288.7 L696.7 287.1 L700.1 285.5 L703.5 284.0 L706.9 282.5 L710.3 281.0 L717.1 278.2 L723.9 275.5 L730.8 273.0 L737.6 270.6 L744.4 268.3 L751.2 266.1 L758.0 264.1 L764.9 262.2 L771.7 260.3 L778.5 258.6 L785.3 257.0 L792.1 255.4 L799.0 253.9 L805.8 252.5 L812.6 251.2 L819.4 249.9 L826.2 248.7 L833.1 247.6 L839.9 246.5 L846.7 245.5 L853.5 244.6 L860.3 243.6 L867.2 242.8 L874.0 241.9 L880.8 241.2 L887.6 240.4 L894.4 239.7 L901.3 239.1 L908.1 238.4 L914.9 237.8 L921.7 237.3 L928.5 236.7 L935.4 236.2 L942.2 235.7 L949.0 235.3 L955.8 234.9 L962.6 234.4 L969.5 234.1 L976.3 233.7 L983.1 233.3 L989.9 233.0 L996.7 232.7 L1003.6 232.4 L1010.4 232.1 L1017.2 231.8 L1024.0 231.6 L1030.8 231.3 L1037.7 231.1 L1044.5 230.9 L1051.3 230.7 L1058.1 230.5 L1064.9 230.3 L1071.8 230.1 L1078.6 230.0 L1085.4 229.8 L1092.2 229.6 L1099.0 229.5 L1105.9 229.4 L1112.7 229.2 L1119.5 229.1 L1126.3 229.0 L1133.1 228.9 L1140.0 228.8 L1146.8 228.7 L1153.6 228.6 L1160.4 228.5 L1167.2 228.4 L1174.1 228.3 L1180.9 228.3 L1187.7 228.2 L1194.5 228.1 L1201.3 228.1 L1208.2 228.0 L1215.0 227.9 L1221.8 227.9 L1228.6 227.8 L1235.4 227.8 L1242.3 227.7 L1249.1 227.7 L1255.9 227.7" stroke="#3c429c" stroke-width="3.9"/>
<path d="M437.5 706.0 L440.9 692.6 L444.3 679.6 L447.7 667.1 L451.1 654.9 L454.6 643.0 L458.0 631.4 L461.4 620.1 L464.8 609.2 L468.2 598.5 L471.6 588.0 L475.0 577.9 L478.4 568.0 L481.8 558.4 L485.2 549.0 L488.6 539.8 L492.1 530.9 L495.5 522.2 L498.9 513.7 L502.3 505.4 L505.7 497.3 L509.1 489.5 L512.5 481.8 L515.9 474.3 L519.3 467.1 L522.8 459.9 L526.2 453.0 L529.6 446.3 L533.0 439.7 L536.4 433.2 L539.8 427.0 L543.2 420.9 L546.6 414.9 L550.0 409.1 L553.4 403.4 L556.9 397.9 L560.3 392.5 L563.7 387.3 L567.1 382.1 L570.5 377.1 L573.9 372.3 L577.3 367.5 L580.7 362.9 L584.1 358.3 L587.5 353.9 L591.0 349.6 L594.4 345.4 L597.8 341.3 L601.2 337.3 L604.6 333.4 L608.0 329.6 L611.4 325.9 L614.8 322.3 L618.2 318.8 L621.6 315.4 L625.0 312.0 L628.5 308.7 L631.9 305.5 L635.3 302.4 L638.7 299.4 L642.1 296.4 L645.5 293.5 L648.9 290.7 L652.3 288.0 L655.7 285.3 L659.1 282.7 L662.6 280.1 L666.0 277.6 L669.4 275.2 L672.8 272.8 L676.2 270.5 L679.6 268.3 L683.0 266.1 L686.4 263.9 L689.8 261.8 L693.2 259.8 L696.7 257.8 L700.1 255.9 L703.5 254.0 L706.9 252.1 L710.3 250.3 L717.1 246.9 L723.9 243.5 L730.8 240.4 L737.6 237.4 L744.4 234.6 L751.2 231.8 L758.0 229.3 L764.9 226.8 L771.7 224.5 L778.5 222.2 L785.3 220.1 L792.1 218.1 L799.0 216.2 L805.8 214.4 L812.6 212.6 L819.4 211.0 L826.2 209.4 L833.1 207.9 L839.9 206.5 L846.7 205.1 L853.5 203.8 L860.3 202.6 L867.2 201.4 L874.0 200.3 L880.8 199.2 L887.6 198.2 L894.4 197.3 L901.3 196.3 L908.1 195.5 L914.9 194.6 L921.7 193.9 L928.5 193.1 L935.4 192.4 L942.2 191.7 L949.0 191.1 L955.8 190.4 L962.6 189.9 L969.5 189.3 L976.3 188.8 L983.1 188.3 L989.9 187.8 L996.7 187.3 L1003.6 186.9 L1010.4 186.5 L1017.2 186.1 L1024.0 185.7 L1030.8 185.3 L1037.7 185.0 L1044.5 184.7 L1051.3 184.3 L1058.1 184.0 L1064.9 183.8 L1071.8 183.5 L1078.6 183.2 L1085.4 183.0 L1092.2 182.8 L1099.0 182.6 L1105.9 182.3 L1112.7 182.1 L1119.5 182.0 L1126.3 181.8 L1133.1 181.6 L1140.0 181.4 L1146.8 181.3 L1153.6 181.1 L1160.4 181.0 L1167.2 180.9 L1174.1 180.7 L1180.9 180.6 L1187.7 180.5 L1194.5 180.4 L1201.3 180.3 L1208.2 180.2 L1215.0 180.1 L1221.8 180.0 L1228.6 179.9 L1235.4 179.8 L1242.3 179.7 L1249.1 179.7 L1255.9 179.6" stroke="#5a62c8" stroke-width="6.6" stroke-opacity="0.5"/>
<path d="M437.5 706.0 L440.9 692.6 L444.3 679.6 L447.7 667.1 L451.1 654.9 L454.6 643.0 L458.0 631.4 L461.4 620.1 L464.8 609.2 L468.2 598.5 L471.6 588.0 L475.0 577.9 L478.4 568.0 L481.8 558.4 L485.2 549.0 L488.6 539.8 L492.1 530.9 L495.5 522.2 L498.9 513.7 L502.3 505.4 L505.7 497.3 L509.1 489.5 L512.5 481.8 L515.9 474.3 L519.3 467.1 L522.8 459.9 L526.2 453.0 L529.6 446.3 L533.0 439.7 L536.4 433.2 L539.8 427.0 L543.2 420.9 L546.6 414.9 L550.0 409.1 L553.4 403.4 L556.9 397.9 L560.3 392.5 L563.7 387.3 L567.1 382.1 L570.5 377.1 L573.9 372.3 L577.3 367.5 L580.7 362.9 L584.1 358.3 L587.5 353.9 L591.0 349.6 L594.4 345.4 L597.8 341.3 L601.2 337.3 L604.6 333.4 L608.0 329.6 L611.4 325.9 L614.8 322.3 L618.2 318.8 L621.6 315.4 L625.0 312.0 L628.5 308.7 L631.9 305.5 L635.3 302.4 L638.7 299.4 L642.1 296.4 L645.5 293.5 L648.9 290.7 L652.3 288.0 L655.7 285.3 L659.1 282.7 L662.6 280.1 L666.0 277.6 L669.4 275.2 L672.8 272.8 L676.2 270.5 L679.6 268.3 L683.0 266.1 L686.4 263.9 L689.8 261.8 L693.2 259.8 L696.7 257.8 L700.1 255.9 L703.5 254.0 L706.9 252.1 L710.3 250.3 L717.1 246.9 L723.9 243.5 L730.8 240.4 L737.6 237.4 L744.4 234.6 L751.2 231.8 L758.0 229.3 L764.9 226.8 L771.7 224.5 L778.5 222.2 L785.3 220.1 L792.1 218.1 L799.0 216.2 L805.8 214.4 L812.6 212.6 L819.4 211.0 L826.2 209.4 L833.1 207.9 L839.9 206.5 L846.7 205.1 L853.5 203.8 L860.3 202.6 L867.2 201.4 L874.0 200.3 L880.8 199.2 L887.6 198.2 L894.4 197.3 L901.3 196.3 L908.1 195.5 L914.9 194.6 L921.7 193.9 L928.5 193.1 L935.4 192.4 L942.2 191.7 L949.0 191.1 L955.8 190.4 L962.6 189.9 L969.5 189.3 L976.3 188.8 L983.1 188.3 L989.9 187.8 L996.7 187.3 L1003.6 186.9 L1010.4 186.5 L1017.2 186.1 L1024.0 185.7 L1030.8 185.3 L1037.7 185.0 L1044.5 184.7 L1051.3 184.3 L1058.1 184.0 L1064.9 183.8 L1071.8 183.5 L1078.6 183.2 L1085.4 183.0 L1092.2 182.8 L1099.0 182.6 L1105.9 182.3 L1112.7 182.1 L1119.5 182.0 L1126.3 181.8 L1133.1 181.6 L1140.0 181.4 L1146.8 181.3 L1153.6 181.1 L1160.4 181.0 L1167.2 180.9 L1174.1 180.7 L1180.9 180.6 L1187.7 180.5 L1194.5 180.4 L1201.3 180.3 L1208.2 180.2 L1215.0 180.1 L1221.8 180.0 L1228.6 179.9 L1235.4 179.8 L1242.3 179.7 L1249.1 179.7 L1255.9 179.6" stroke="#3c429c" stroke-width="3.9"/>
<path d="M437.5 706.0 L440.9 692.3 L444.3 678.6 L447.7 665.1 L451.1 651.9 L454.6 638.9 L458.0 626.2 L461.4 613.7 L464.8 601.5 L468.2 589.6 L471.6 578.0 L475.0 566.6 L478.4 555.4 L481.8 544.5 L485.2 533.9 L488.6 523.5 L492.1 513.4 L495.5 503.4 L498.9 493.7 L502.3 484.3 L505.7 475.0 L509.1 466.0 L512.5 457.2 L515.9 448.6 L519.3 440.2 L522.8 432.0 L526.2 424.0 L529.6 416.1 L533.0 408.5 L536.4 401.0 L539.8 393.7 L543.2 386.6 L546.6 379.7 L550.0 372.9 L553.4 366.3 L556.9 359.9 L560.3 353.6 L563.7 347.4 L567.1 341.4 L570.5 335.6 L573.9 329.8 L577.3 324.3 L580.7 318.8 L584.1 313.5 L587.5 308.3 L591.0 303.3 L594.4 298.3 L597.8 293.5 L601.2 288.8 L604.6 284.2 L608.0 279.7 L611.4 275.4 L614.8 271.1 L618.2 266.9 L621.6 262.9 L625.0 258.9 L628.5 255.0 L631.9 251.3 L635.3 247.6 L638.7 244.0 L642.1 240.5 L645.5 237.1 L648.9 233.7 L652.3 230.5 L655.7 227.3 L659.1 224.2 L662.6 221.2 L666.0 218.2 L669.4 215.4 L672.8 212.6 L676.2 209.8 L679.6 207.1 L683.0 204.5 L686.4 202.0 L689.8 199.5 L693.2 197.1 L696.7 194.7 L700.1 192.4 L703.5 190.2 L706.9 188.0 L710.3 185.9 L717.1 181.7 L723.9 177.8 L730.8 174.1 L737.6 170.5 L744.4 167.2 L751.2 163.9 L758.0 160.9 L764.9 158.0 L771.7 155.2 L778.5 152.6 L785.3 150.1 L792.1 147.7 L799.0 145.4 L805.8 143.3 L812.6 141.2 L819.4 139.3 L826.2 137.4 L833.1 135.6 L839.9 134.0 L846.7 132.4 L853.5 130.8 L860.3 129.4 L867.2 128.0 L874.0 126.7 L880.8 125.5 L887.6 124.3 L894.4 123.2 L901.3 122.1 L908.1 121.1 L914.9 120.1 L921.7 119.2 L928.5 118.3 L935.4 117.5 L942.2 116.7 L949.0 115.9 L955.8 115.2 L962.6 114.5 L969.5 113.9 L976.3 113.3 L983.1 112.7 L989.9 112.1 L996.7 111.6 L1003.6 111.1 L1010.4 110.6 L1017.2 110.2 L1024.0 109.7 L1030.8 109.3 L1037.7 108.9 L1044.5 108.6 L1051.3 108.2 L1058.1 107.9 L1064.9 107.6 L1071.8 107.2 L1078.6 107.0 L1085.4 106.7 L1092.2 106.4 L1099.0 106.2 L1105.9 105.9 L1112.7 105.7 L1119.5 105.5 L1126.3 105.3 L1133.1 105.1 L1140.0 104.9 L1146.8 104.7 L1153.6 104.6 L1160.4 104.4 L1167.2 104.3 L1174.1 104.1 L1180.9 104.0 L1187.7 103.9 L1194.5 103.7 L1201.3 103.6 L1208.2 103.5 L1215.0 103.4 L1221.8 103.3 L1228.6 103.2 L1235.4 103.1 L1242.3 103.0 L1249.1 103.0 L1255.9 102.9" stroke="#5a62c8" stroke-width="6.6" stroke-opacity="0.5"/>
<path d="M437.5 706.0 L440.9 692.3 L444.3 678.6 L447.7 665.1 L451.1 651.9 L454.6 638.9 L458.0 626.2 L461.4 613.7 L464.8 601.5 L468.2 589.6 L471.6 578.0 L475.0 566.6 L478.4 555.4 L481.8 544.5 L485.2 533.9 L488.6 523.5 L492.1 513.4 L495.5 503.4 L498.9 493.7 L502.3 484.3 L505.7 475.0 L509.1 466.0 L512.5 457.2 L515.9 448.6 L519.3 440.2 L522.8 432.0 L526.2 424.0 L529.6 416.1 L533.0 408.5 L536.4 401.0 L539.8 393.7 L543.2 386.6 L546.6 379.7 L550.0 372.9 L553.4 366.3 L556.9 359.9 L560.3 353.6 L563.7 347.4 L567.1 341.4 L570.5 335.6 L573.9 329.8 L577.3 324.3 L580.7 318.8 L584.1 313.5 L587.5 308.3 L591.0 303.3 L594.4 298.3 L597.8 293.5 L601.2 288.8 L604.6 284.2 L608.0 279.7 L611.4 275.4 L614.8 271.1 L618.2 266.9 L621.6 262.9 L625.0 258.9 L628.5 255.0 L631.9 251.3 L635.3 247.6 L638.7 244.0 L642.1 240.5 L645.5 237.1 L648.9 233.7 L652.3 230.5 L655.7 227.3 L659.1 224.2 L662.6 221.2 L666.0 218.2 L669.4 215.4 L672.8 212.6 L676.2 209.8 L679.6 207.1 L683.0 204.5 L686.4 202.0 L689.8 199.5 L693.2 197.1 L696.7 194.7 L700.1 192.4 L703.5 190.2 L706.9 188.0 L710.3 185.9 L717.1 181.7 L723.9 177.8 L730.8 174.1 L737.6 170.5 L744.4 167.2 L751.2 163.9 L758.0 160.9 L764.9 158.0 L771.7 155.2 L778.5 152.6 L785.3 150.1 L792.1 147.7 L799.0 145.4 L805.8 143.3 L812.6 141.2 L819.4 139.3 L826.2 137.4 L833.1 135.6 L839.9 134.0 L846.7 132.4 L853.5 130.8 L860.3 129.4 L867.2 128.0 L874.0 126.7 L880.8 125.5 L887.6 124.3 L894.4 123.2 L901.3 122.1 L908.1 121.1 L914.9 120.1 L921.7 119.2 L928.5 118.3 L935.4 117.5 L942.2 116.7 L949.0 115.9 L955.8 115.2 L962.6 114.5 L969.5 113.9 L976.3 113.3 L983.1 112.7 L989.9 112.1 L996.7 111.6 L1003.6 111.1 L1010.4 110.6 L1017.2 110.2 L1024.0 109.7 L1030.8 109.3 L1037.7 108.9 L1044.5 108.6 L1051.3 108.2 L1058.1 107.9 L1064.9 107.6 L1071.8 107.2 L1078.6 107.0 L1085.4 106.7 L1092.2 106.4 L1099.0 106.2 L1105.9 105.9 L1112.7 105.7 L1119.5 105.5 L1126.3 105.3 L1133.1 105.1 L1140.0 104.9 L1146.8 104.7 L1153.6 104.6 L1160.4 104.4 L1167.2 104.3 L1174.1 104.1 L1180.9 104.0 L1187.7 103.9 L1194.5 103.7 L1201.3 103.6 L1208.2 103.5 L1215.0 103.4 L1221.8 103.3 L1228.6 103.2 L1235.4 103.1 L1242.3 103.0 L1249.1 103.0 L1255.9 102.9" stroke="#3c429c" stroke-width="3.9"/>
<path d="M437.5 706.0 L440.9 691.3 L444.3 677.7 L447.7 664.8 L451.1 652.5 L454.6 640.7 L458.0 629.2 L461.4 618.2 L464.8 607.6 L468.2 597.4 L471.6 587.4 L475.0 577.8 L478.4 568.6 L481.8 559.6 L485.2 550.9 L488.6 542.5 L492.1 534.3 L495.5 526.4 L498.9 518.7 L502.3 511.3 L505.7 504.1 L509.1 497.1 L512.5 490.4 L515.9 483.8 L519.3 477.4 L522.8 471.2 L526.2 465.2 L529.6 459.4 L533.0 453.8 L536.4 448.3 L539.8 443.0 L543.2 437.8 L546.6 432.8 L550.0 428.0 L553.4 423.3 L556.9 418.7 L560.3 414.2 L563.7 409.9 L567.1 405.7 L570.5 401.6 L573.9 397.7 L577.3 393.8 L580.7 390.1 L584.1 386.5 L587.5 383.0 L591.0 379.6 L594.4 376.2 L597.8 373.0 L601.2 369.9 L604.6 366.8 L608.0 363.9 L611.4 361.0 L614.8 358.2 L618.2 355.5 L621.6 352.9 L625.0 350.3 L628.5 347.8 L631.9 345.4 L635.3 343.0 L638.7 340.8 L642.1 338.5 L645.5 336.4 L648.9 334.3 L652.3 332.3 L655.7 330.3 L659.1 328.4 L662.6 326.5 L666.0 324.7 L669.4 322.9 L672.8 321.2 L676.2 319.5 L679.6 317.9 L683.0 316.3 L686.4 314.8 L689.8 313.3 L693.2 311.8 L696.7 310.4 L700.1 309.1 L703.5 307.7 L706.9 306.4 L710.3 305.2 L717.1 302.7 L723.9 300.5 L730.8 298.3 L737.6 296.3 L744.4 294.3 L751.2 292.5 L758.0 290.8 L764.9 289.2 L771.7 287.6 L778.5 286.1 L785.3 284.8 L792.1 283.5 L799.0 282.2 L805.8 281.1 L812.6 279.9 L819.4 278.9 L826.2 277.9 L833.1 277.0 L839.9 276.1 L846.7 275.2 L853.5 274.5 L860.3 273.7 L867.2 273.0 L874.0 272.3 L880.8 271.7 L887.6 271.1 L894.4 270.5 L901.3 270.0 L908.1 269.4 L914.9 269.0 L921.7 268.5 L928.5 268.1 L935.4 267.7 L942.2 267.3 L949.0 266.9 L955.8 266.6 L962.6 266.2 L969.5 265.9 L976.3 265.6 L983.1 265.3 L989.9 265.1 L996.7 264.8 L1003.6 264.6 L1010.4 264.3 L1017.2 264.1 L1024.0 263.9 L1030.8 263.7 L1037.7 263.6 L1044.5 263.4 L1051.3 263.2 L1058.1 263.1 L1064.9 262.9 L1071.8 262.8 L1078.6 262.7 L1085.4 262.5 L1092.2 262.4 L1099.0 262.3 L1105.9 262.2 L1112.7 262.1 L1119.5 262.0 L1126.3 261.9 L1133.1 261.8 L1140.0 261.7 L1146.8 261.7 L1153.6 261.6 L1160.4 261.5 L1167.2 261.5 L1174.1 261.4 L1180.9 261.3 L1187.7 261.3 L1194.5 261.2 L1201.3 261.2 L1208.2 261.1 L1215.0 261.1 L1221.8 261.0 L1228.6 261.0 L1235.4 261.0 L1242.3 260.9 L1249.1 260.9 L1255.9 260.9" stroke="#c860d0" stroke-width="6.8" stroke-opacity="0.5"/>
<path d="M437.5 706.0 L440.9 691.3 L444.3 677.7 L447.7 664.8 L451.1 652.5 L454.6 640.7 L458.0 629.2 L461.4 618.2 L464.8 607.6 L468.2 597.4 L471.6 587.4 L475.0 577.8 L478.4 568.6 L481.8 559.6 L485.2 550.9 L488.6 542.5 L492.1 534.3 L495.5 526.4 L498.9 518.7 L502.3 511.3 L505.7 504.1 L509.1 497.1 L512.5 490.4 L515.9 483.8 L519.3 477.4 L522.8 471.2 L526.2 465.2 L529.6 459.4 L533.0 453.8 L536.4 448.3 L539.8 443.0 L543.2 437.8 L546.6 432.8 L550.0 428.0 L553.4 423.3 L556.9 418.7 L560.3 414.2 L563.7 409.9 L567.1 405.7 L570.5 401.6 L573.9 397.7 L577.3 393.8 L580.7 390.1 L584.1 386.5 L587.5 383.0 L591.0 379.6 L594.4 376.2 L597.8 373.0 L601.2 369.9 L604.6 366.8 L608.0 363.9 L611.4 361.0 L614.8 358.2 L618.2 355.5 L621.6 352.9 L625.0 350.3 L628.5 347.8 L631.9 345.4 L635.3 343.0 L638.7 340.8 L642.1 338.5 L645.5 336.4 L648.9 334.3 L652.3 332.3 L655.7 330.3 L659.1 328.4 L662.6 326.5 L666.0 324.7 L669.4 322.9 L672.8 321.2 L676.2 319.5 L679.6 317.9 L683.0 316.3 L686.4 314.8 L689.8 313.3 L693.2 311.8 L696.7 310.4 L700.1 309.1 L703.5 307.7 L706.9 306.4 L710.3 305.2 L717.1 302.7 L723.9 300.5 L730.8 298.3 L737.6 296.3 L744.4 294.3 L751.2 292.5 L758.0 290.8 L764.9 289.2 L771.7 287.6 L778.5 286.1 L785.3 284.8 L792.1 283.5 L799.0 282.2 L805.8 281.1 L812.6 279.9 L819.4 278.9 L826.2 277.9 L833.1 277.0 L839.9 276.1 L846.7 275.2 L853.5 274.5 L860.3 273.7 L867.2 273.0 L874.0 272.3 L880.8 271.7 L887.6 271.1 L894.4 270.5 L901.3 270.0 L908.1 269.4 L914.9 269.0 L921.7 268.5 L928.5 268.1 L935.4 267.7 L942.2 267.3 L949.0 266.9 L955.8 266.6 L962.6 266.2 L969.5 265.9 L976.3 265.6 L983.1 265.3 L989.9 265.1 L996.7 264.8 L1003.6 264.6 L1010.4 264.3 L1017.2 264.1 L1024.0 263.9 L1030.8 263.7 L1037.7 263.6 L1044.5 263.4 L1051.3 263.2 L1058.1 263.1 L1064.9 262.9 L1071.8 262.8 L1078.6 262.7 L1085.4 262.5 L1092.2 262.4 L1099.0 262.3 L1105.9 262.2 L1112.7 262.1 L1119.5 262.0 L1126.3 261.9 L1133.1 261.8 L1140.0 261.7 L1146.8 261.7 L1153.6 261.6 L1160.4 261.5 L1167.2 261.5 L1174.1 261.4 L1180.9 261.3 L1187.7 261.3 L1194.5 261.2 L1201.3 261.2 L1208.2 261.1 L1215.0 261.1 L1221.8 261.0 L1228.6 261.0 L1235.4 261.0 L1242.3 260.9 L1249.1 260.9 L1255.9 260.9" stroke="#923a9e" stroke-width="4.1"/>
<path d="M437.5 706.0 L440.9 695.1 L444.3 683.8 L447.7 672.4 L451.1 661.1 L454.6 649.9 L458.0 638.8 L461.4 627.9 L464.8 617.1 L468.2 606.5 L471.6 596.1 L475.0 585.8 L478.4 575.8 L481.8 565.9 L485.2 556.1 L488.6 546.6 L492.1 537.3 L495.5 528.1 L498.9 519.1 L502.3 510.2 L505.7 501.6 L509.1 493.1 L512.5 484.8 L515.9 476.6 L519.3 468.6 L522.8 460.8 L526.2 453.1 L529.6 445.6 L533.0 438.3 L536.4 431.1 L539.8 424.0 L543.2 417.1 L546.6 410.4 L550.0 403.8 L553.4 397.3 L556.9 390.9 L560.3 384.7 L563.7 378.7 L567.1 372.7 L570.5 366.9 L573.9 361.2 L577.3 355.6 L580.7 350.2 L584.1 344.9 L587.5 339.7 L591.0 334.6 L594.4 329.6 L597.8 324.7 L601.2 319.9 L604.6 315.2 L608.0 310.7 L611.4 306.2 L614.8 301.8 L618.2 297.6 L621.6 293.4 L625.0 289.3 L628.5 285.3 L631.9 281.4 L635.3 277.6 L638.7 273.9 L642.1 270.2 L645.5 266.6 L648.9 263.2 L652.3 259.7 L655.7 256.4 L659.1 253.2 L662.6 250.0 L666.0 246.9 L669.4 243.8 L672.8 240.8 L676.2 237.9 L679.6 235.1 L683.0 232.3 L686.4 229.6 L689.8 226.9 L693.2 224.3 L696.7 221.8 L700.1 219.3 L703.5 216.9 L706.9 214.5 L710.3 212.2 L717.1 207.8 L723.9 203.5 L730.8 199.4 L737.6 195.5 L744.4 191.8 L751.2 188.3 L758.0 184.9 L764.9 181.7 L771.7 178.6 L778.5 175.7 L785.3 172.9 L792.1 170.2 L799.0 167.6 L805.8 165.2 L812.6 162.9 L819.4 160.6 L826.2 158.5 L833.1 156.5 L839.9 154.6 L846.7 152.8 L853.5 151.0 L860.3 149.3 L867.2 147.7 L874.0 146.2 L880.8 144.8 L887.6 143.4 L894.4 142.1 L901.3 140.8 L908.1 139.6 L914.9 138.5 L921.7 137.4 L928.5 136.4 L935.4 135.4 L942.2 134.4 L949.0 133.5 L955.8 132.7 L962.6 131.9 L969.5 131.1 L976.3 130.4 L983.1 129.6 L989.9 129.0 L996.7 128.3 L1003.6 127.7 L1010.4 127.1 L1017.2 126.6 L1024.0 126.1 L1030.8 125.6 L1037.7 125.1 L1044.5 124.6 L1051.3 124.2 L1058.1 123.8 L1064.9 123.4 L1071.8 123.0 L1078.6 122.6 L1085.4 122.3 L1092.2 122.0 L1099.0 121.7 L1105.9 121.4 L1112.7 121.1 L1119.5 120.8 L1126.3 120.6 L1133.1 120.3 L1140.0 120.1 L1146.8 119.9 L1153.6 119.7 L1160.4 119.5 L1167.2 119.3 L1174.1 119.1 L1180.9 118.9 L1187.7 118.8 L1194.5 118.6 L1201.3 118.5 L1208.2 118.3 L1215.0 118.2 L1221.8 118.1 L1228.6 117.9 L1235.4 117.8 L1242.3 117.7 L1249.1 117.6 L1255.9 117.5" stroke="#c860d0" stroke-width="6.8" stroke-opacity="0.5"/>
<path d="M437.5 706.0 L440.9 695.1 L444.3 683.8 L447.7 672.4 L451.1 661.1 L454.6 649.9 L458.0 638.8 L461.4 627.9 L464.8 617.1 L468.2 606.5 L471.6 596.1 L475.0 585.8 L478.4 575.8 L481.8 565.9 L485.2 556.1 L488.6 546.6 L492.1 537.3 L495.5 528.1 L498.9 519.1 L502.3 510.2 L505.7 501.6 L509.1 493.1 L512.5 484.8 L515.9 476.6 L519.3 468.6 L522.8 460.8 L526.2 453.1 L529.6 445.6 L533.0 438.3 L536.4 431.1 L539.8 424.0 L543.2 417.1 L546.6 410.4 L550.0 403.8 L553.4 397.3 L556.9 390.9 L560.3 384.7 L563.7 378.7 L567.1 372.7 L570.5 366.9 L573.9 361.2 L577.3 355.6 L580.7 350.2 L584.1 344.9 L587.5 339.7 L591.0 334.6 L594.4 329.6 L597.8 324.7 L601.2 319.9 L604.6 315.2 L608.0 310.7 L611.4 306.2 L614.8 301.8 L618.2 297.6 L621.6 293.4 L625.0 289.3 L628.5 285.3 L631.9 281.4 L635.3 277.6 L638.7 273.9 L642.1 270.2 L645.5 266.6 L648.9 263.2 L652.3 259.7 L655.7 256.4 L659.1 253.2 L662.6 250.0 L666.0 246.9 L669.4 243.8 L672.8 240.8 L676.2 237.9 L679.6 235.1 L683.0 232.3 L686.4 229.6 L689.8 226.9 L693.2 224.3 L696.7 221.8 L700.1 219.3 L703.5 216.9 L706.9 214.5 L710.3 212.2 L717.1 207.8 L723.9 203.5 L730.8 199.4 L737.6 195.5 L744.4 191.8 L751.2 188.3 L758.0 184.9 L764.9 181.7 L771.7 178.6 L778.5 175.7 L785.3 172.9 L792.1 170.2 L799.0 167.6 L805.8 165.2 L812.6 162.9 L819.4 160.6 L826.2 158.5 L833.1 156.5 L839.9 154.6 L846.7 152.8 L853.5 151.0 L860.3 149.3 L867.2 147.7 L874.0 146.2 L880.8 144.8 L887.6 143.4 L894.4 142.1 L901.3 140.8 L908.1 139.6 L914.9 138.5 L921.7 137.4 L928.5 136.4 L935.4 135.4 L942.2 134.4 L949.0 133.5 L955.8 132.7 L962.6 131.9 L969.5 131.1 L976.3 130.4 L983.1 129.6 L989.9 129.0 L996.7 128.3 L1003.6 127.7 L1010.4 127.1 L1017.2 126.6 L1024.0 126.1 L1030.8 125.6 L1037.7 125.1 L1044.5 124.6 L1051.3 124.2 L1058.1 123.8 L1064.9 123.4 L1071.8 123.0 L1078.6 122.6 L1085.4 122.3 L1092.2 122.0 L1099.0 121.7 L1105.9 121.4 L1112.7 121.1 L1119.5 120.8 L1126.3 120.6 L1133.1 120.3 L1140.0 120.1 L1146.8 119.9 L1153.6 119.7 L1160.4 119.5 L1167.2 119.3 L1174.1 119.1 L1180.9 118.9 L1187.7 118.8 L1194.5 118.6 L1201.3 118.5 L1208.2 118.3 L1215.0 118.2 L1221.8 118.1 L1228.6 117.9 L1235.4 117.8 L1242.3 117.7 L1249.1 117.6 L1255.9 117.5" stroke="#923a9e" stroke-width="4.1"/>
<path d="M437.5 706.0 L440.9 700.2 L444.3 694.2 L447.7 688.3 L451.1 682.5 L454.6 676.8 L458.0 671.1 L461.4 665.4 L464.8 659.8 L468.2 654.1 L471.6 648.5 L475.0 642.8 L478.4 637.1 L481.8 631.3 L485.2 625.6 L488.6 619.8 L492.1 614.0 L495.5 608.2 L498.9 602.4 L502.3 596.5 L505.7 590.7 L509.1 584.9 L512.5 579.1 L515.9 573.3 L519.3 567.5 L522.8 561.7 L526.2 555.9 L529.6 550.2 L533.0 544.5 L536.4 538.8 L539.8 533.2 L543.2 527.5 L546.6 522.0 L550.0 516.5 L553.4 511.0 L556.9 505.5 L560.3 500.2 L563.7 494.8 L567.1 489.5 L570.5 484.3 L573.9 479.1 L577.3 474.0 L580.7 468.9 L584.1 463.9 L587.5 459.0 L591.0 454.1 L594.4 449.2 L597.8 444.5 L601.2 439.8 L604.6 435.1 L608.0 430.5 L611.4 426.0 L614.8 421.5 L618.2 417.1 L621.6 412.8 L625.0 408.5 L628.5 404.3 L631.9 400.2 L635.3 396.1 L638.7 392.1 L642.1 388.1 L645.5 384.2 L648.9 380.4 L652.3 376.6 L655.7 372.9 L659.1 369.2 L662.6 365.6 L666.0 362.1 L669.4 358.6 L672.8 355.2 L676.2 351.9 L679.6 348.6 L683.0 345.4 L686.4 342.2 L689.8 339.1 L693.2 336.0 L696.7 333.0 L700.1 330.1 L703.5 327.2 L706.9 324.3 L710.3 321.5 L717.1 316.1 L723.9 310.9 L730.8 305.9 L737.6 301.1 L744.4 296.5 L751.2 292.1 L758.0 287.8 L764.9 283.7 L771.7 279.8 L778.5 276.1 L785.3 272.5 L792.1 269.1 L799.0 265.8 L805.8 262.7 L812.6 259.7 L819.4 256.8 L826.2 254.1 L833.1 251.5 L839.9 249.0 L846.7 246.6 L853.5 244.4 L860.3 242.2 L867.2 240.1 L874.0 238.2 L880.8 236.3 L887.6 234.5 L894.4 232.9 L901.3 231.2 L908.1 229.7 L914.9 228.3 L921.7 226.9 L928.5 225.6 L935.4 224.3 L942.2 223.1 L949.0 222.0 L955.8 220.9 L962.6 219.9 L969.5 219.0 L976.3 218.1 L983.1 217.2 L989.9 216.4 L996.7 215.6 L1003.6 214.9 L1010.4 214.2 L1017.2 213.5 L1024.0 212.9 L1030.8 212.3 L1037.7 211.8 L1044.5 211.2 L1051.3 210.7 L1058.1 210.3 L1064.9 209.8 L1071.8 209.4 L1078.6 209.0 L1085.4 208.6 L1092.2 208.3 L1099.0 208.0 L1105.9 207.6 L1112.7 207.3 L1119.5 207.1 L1126.3 206.8 L1133.1 206.6 L1140.0 206.3 L1146.8 206.1 L1153.6 205.9 L1160.4 205.7 L1167.2 205.5 L1174.1 205.3 L1180.9 205.2 L1187.7 205.0 L1194.5 204.9 L1201.3 204.7 L1208.2 204.6 L1215.0 204.5 L1221.8 204.4 L1228.6 204.3 L1235.4 204.2 L1242.3 204.1 L1249.1 204.0 L1255.9 203.9" stroke="#5a62c8" stroke-width="6.6" stroke-opacity="0.5"/>
<path d="M437.5 706.0 L440.9 700.2 L444.3 694.2 L447.7 688.3 L451.1 682.5 L454.6 676.8 L458.0 671.1 L461.4 665.4 L464.8 659.8 L468.2 654.1 L471.6 648.5 L475.0 642.8 L478.4 637.1 L481.8 631.3 L485.2 625.6 L488.6 619.8 L492.1 614.0 L495.5 608.2 L498.9 602.4 L502.3 596.5 L505.7 590.7 L509.1 584.9 L512.5 579.1 L515.9 573.3 L519.3 567.5 L522.8 561.7 L526.2 555.9 L529.6 550.2 L533.0 544.5 L536.4 538.8 L539.8 533.2 L543.2 527.5 L546.6 522.0 L550.0 516.5 L553.4 511.0 L556.9 505.5 L560.3 500.2 L563.7 494.8 L567.1 489.5 L570.5 484.3 L573.9 479.1 L577.3 474.0 L580.7 468.9 L584.1 463.9 L587.5 459.0 L591.0 454.1 L594.4 449.2 L597.8 444.5 L601.2 439.8 L604.6 435.1 L608.0 430.5 L611.4 426.0 L614.8 421.5 L618.2 417.1 L621.6 412.8 L625.0 408.5 L628.5 404.3 L631.9 400.2 L635.3 396.1 L638.7 392.1 L642.1 388.1 L645.5 384.2 L648.9 380.4 L652.3 376.6 L655.7 372.9 L659.1 369.2 L662.6 365.6 L666.0 362.1 L669.4 358.6 L672.8 355.2 L676.2 351.9 L679.6 348.6 L683.0 345.4 L686.4 342.2 L689.8 339.1 L693.2 336.0 L696.7 333.0 L700.1 330.1 L703.5 327.2 L706.9 324.3 L710.3 321.5 L717.1 316.1 L723.9 310.9 L730.8 305.9 L737.6 301.1 L744.4 296.5 L751.2 292.1 L758.0 287.8 L764.9 283.7 L771.7 279.8 L778.5 276.1 L785.3 272.5 L792.1 269.1 L799.0 265.8 L805.8 262.7 L812.6 259.7 L819.4 256.8 L826.2 254.1 L833.1 251.5 L839.9 249.0 L846.7 246.6 L853.5 244.4 L860.3 242.2 L867.2 240.1 L874.0 238.2 L880.8 236.3 L887.6 234.5 L894.4 232.9 L901.3 231.2 L908.1 229.7 L914.9 228.3 L921.7 226.9 L928.5 225.6 L935.4 224.3 L942.2 223.1 L949.0 222.0 L955.8 220.9 L962.6 219.9 L969.5 219.0 L976.3 218.1 L983.1 217.2 L989.9 216.4 L996.7 215.6 L1003.6 214.9 L1010.4 214.2 L1017.2 213.5 L1024.0 212.9 L1030.8 212.3 L1037.7 211.8 L1044.5 211.2 L1051.3 210.7 L1058.1 210.3 L1064.9 209.8 L1071.8 209.4 L1078.6 209.0 L1085.4 208.6 L1092.2 208.3 L1099.0 208.0 L1105.9 207.6 L1112.7 207.3 L1119.5 207.1 L1126.3 206.8 L1133.1 206.6 L1140.0 206.3 L1146.8 206.1 L1153.6 205.9 L1160.4 205.7 L1167.2 205.5 L1174.1 205.3 L1180.9 205.2 L1187.7 205.0 L1194.5 204.9 L1201.3 204.7 L1208.2 204.6 L1215.0 204.5 L1221.8 204.4 L1228.6 204.3 L1235.4 204.2 L1242.3 204.1 L1249.1 204.0 L1255.9 203.9" stroke="#3c429c" stroke-width="3.9"/>
</g>
<defs><filter id="soft" x="-2%" y="-2%" width="104%" height="104%"><feGaussianBlur stdDeviation="0.5"/></filter></defs>
<g class="arrow" stroke="#858ea2" fill="none">
<line x1="1059.4" y1="50.5" x2="1059.4" y2="501.5" stroke-width="2.5"/>
<path d="M1051.6 62 Q1054 54.5 1059.4 50 Q1064.6 54.5 1065.6 62" stroke="#aab3c4" stroke-width="2.8" filter="url(#soft)"/>
</g>
<g class="frame" stroke="#1a1a1a" stroke-width="2.8" fill="none">
<rect x="369.9" y="1.3" width="885.6" height="786.9"/>
<g stroke-width="2.6"><line x1="505.7" y1="774.7" x2="505.7" y2="788"/><line x1="642.1" y1="774.7" x2="642.1" y2="788"/><line x1="778.5" y1="774.7" x2="778.5" y2="788"/><line x1="914.9" y1="774.7" x2="914.9" y2="788"/><line x1="1051.3" y1="774.7" x2="1051.3" y2="788"/><line x1="1187.7" y1="774.7" x2="1187.7" y2="788"/></g>
</g>
<g class="tick"><text transform="translate(505.7,843) scale(1.0,1)" text-anchor="middle">5</text><text transform="translate(642.1,843) scale(1.0,1)" text-anchor="middle">15</text><text transform="translate(778.5,843) scale(1.0,1)" text-anchor="middle">25</text><text transform="translate(914.9,843) scale(1.0,1)" text-anchor="middle">35</text><text transform="translate(1051.3,843) scale(1.0,1)" text-anchor="middle">45</text><text transform="translate(1187.7,843) scale(1.0,1)" text-anchor="middle">55</text><text transform="translate(339.5,837.8) scale(1.11,0.7)">−</text><text transform="translate(383.3,843)" text-anchor="middle">5</text></g>
<text x="731" y="898.5" font-size="52.5px" textLength="116.5" lengthAdjust="spacingAndGlyphs">Time</text>
<text x="851.4" y="910.4" font-size="74px">/</text>
<text x="874" y="898.5" font-size="52.5px" textLength="20" lengthAdjust="spacingAndGlyphs">s</text>
<text transform="translate(336,540) rotate(-90)" font-size="52.5px" textLength="291" lengthAdjust="spacingAndGlyphs">Temperature</text>
<g font-size="53.5px"><text x="991.6" y="50.4" font-style="italic" font-size="58px">t</text><text transform="translate(1005.1,51.9) scale(1.39,0.84)">=</text><text x="1046.5" y="49.8">45</text><text x="1110.3" y="50.2" font-size="55px">s</text></g>
</svg>
</body>
</html>
